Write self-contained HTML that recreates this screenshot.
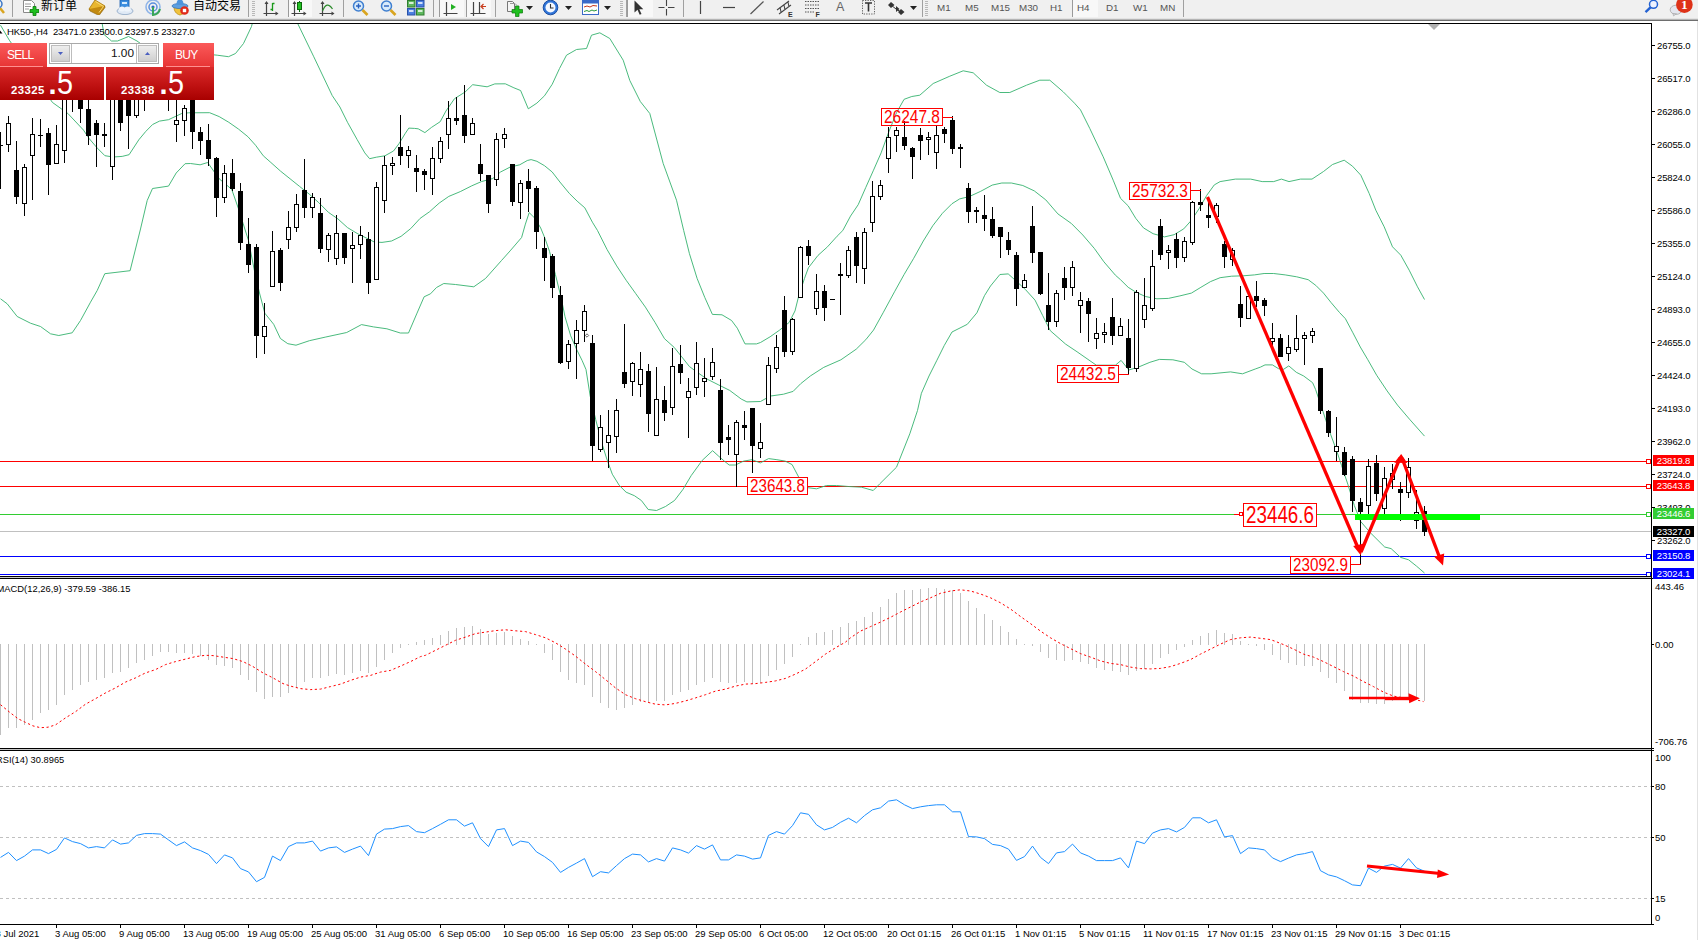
<!DOCTYPE html>
<html><head><meta charset="utf-8"><title>HK50-,H4</title>
<style>
html,body{margin:0;padding:0;background:#fff}
body{width:1698px;height:940px;position:relative;overflow:hidden;font-family:"Liberation Sans","Noto Sans CJK SC",sans-serif}
.t{position:absolute;white-space:nowrap;line-height:11px;height:11px}
.pl{position:absolute;left:1653px;width:41px;height:11px;line-height:11px;font-size:9.5px;letter-spacing:-0.15px;color:#fff;text-align:center;white-space:nowrap}
#tb{position:absolute;left:0;top:0;width:1698px;height:21px;background:#f0f0f0}
#tb .l1{position:absolute;left:0;top:18px;width:100%;height:1px;background:#e3e3e3}
#tb .l2{position:absolute;left:0;top:19px;width:100%;height:1px;background:#b4b4b4}
#tb .l3{position:absolute;left:0;top:20px;width:100%;height:1px;background:#6e6e6e}
#redge{position:absolute;left:1697px;top:21px;width:1px;height:919px;background:#e2e2e2}

#pn{position:absolute;left:0;top:43px;width:214px;height:57px;background:#fff}
#pn .sb{position:absolute;top:0;height:24px;background:linear-gradient(#fb5a5a,#e73434);color:#fff;font-size:12px;line-height:24px;letter-spacing:-0.7px}
#pn .lb{position:absolute;top:24px;height:33px;background:linear-gradient(#da2a2a,#c01212 55%,#a80000);color:#fff}
#pn .hl{position:absolute;top:23px;height:1px;background:#ff8f8f}
#pn .sm{position:absolute;font-weight:bold;font-size:11.4px;line-height:12px;top:17px;letter-spacing:0.4px}
#pn .bg{position:absolute;font-size:33.5px;line-height:33px;top:-1px;transform:scaleX(0.86);transform-origin:0 0}
#pn .dot{position:absolute;font-size:29px;line-height:33px;top:0.5px;font-weight:bold}
#sp{position:absolute;left:49px;top:0;width:110px;height:21px;background:#fff;border:1px solid #a9a9a9;box-sizing:border-box}
#sp .bt{position:absolute;top:1px;width:19px;height:17px;background:linear-gradient(#eeeeee,#cfcfcf);border:1px solid #bdbdbd;box-sizing:border-box}
#sp .v{position:absolute;left:21px;top:0;width:66px;height:19px;text-align:right;font-size:11.8px;line-height:19px;color:#111;border-left:1px solid #bdbdbd;border-right:1px solid #bdbdbd;box-sizing:border-box;padding-right:2px}

</style></head><body>
<svg width="1698" height="940" viewBox="0 0 1698 940" style="position:absolute;left:0;top:0">
<defs><clipPath id="cm"><rect x="0" y="24" width="1651" height="552"/></clipPath><clipPath id="c2"><rect x="0" y="579" width="1651" height="169"/></clipPath><clipPath id="c3"><rect x="0" y="751" width="1651" height="173"/></clipPath></defs>
<g clip-path="url(#cm)">
<g shape-rendering="crispEdges">
<rect x="0" y="531" width="1651" height="1" fill="#c0c0c0"/>
<rect x="0" y="514" width="1651" height="1" fill="#32cd32"/>
<rect x="0" y="461" width="1651" height="1" fill="#ff0000"/>
<rect x="0" y="486" width="1651" height="1" fill="#ff0000"/>
<rect x="0" y="556" width="1651" height="1" fill="#0000ff"/>
<rect x="0" y="574" width="1651" height="1" fill="#0000ff"/>
</g>
<polyline points="102.0,22.5 104.0,34.5 111.5,41.0 117.5,41.0 128.5,36.5 137.0,41.0 140.5,43.5 150.5,46.5 180.5,50.5 200.5,53.5 217.2,55.2 228.5,56.7 235.5,53.5 243.5,43.5 251.5,26.5 252.5,22.5" fill="none" stroke="#35b26e" stroke-width="0.9"/>
<polyline points="297.2,22.5 313.8,56.8 332.2,95.5 339.9,107.0 347.5,122.3 357.1,139.5 364.8,152.9 369.6,158.7 376.3,157.2 384.9,155.8 393.5,151.0 399.2,143.4 405.0,133.8 408.8,128.1 414.5,128.4 418.2,128.8 424.9,132.6 431.5,127.4 440.2,121.7 445.9,111.1 454.5,98.7 465.1,92.0 472.7,84.7 487.1,86.8 494.8,83.9 505.3,83.8 513.9,87.8 520.6,90.5 528.3,108.8 536.9,103.1 544.5,95.8 552.2,84.3 559.5,68.5 566.5,55.2 576.5,49.5 586.5,48.5 591.5,35.2 599.8,32.8 609.8,38.5 623.2,60.2 629.8,80.5 640.3,101.5 649.8,113.5 663.2,163.5 676.5,200.2 683.7,230.5 689.4,253.5 697.1,278.4 704.8,297.5 712.4,314.4 722.0,314.8 731.6,320.5 737.3,328.2 745.0,343.9 756.5,343.9 760.5,342.5 770.1,336.8 779.6,330.1 789.2,322.4 795.0,310.9 798.8,295.6 804.5,278.4 808.4,267.8 818.0,255.4 827.5,246.8 837.1,236.2 842.8,230.5 850.5,216.1 858.2,204.7 865.8,187.4 873.5,170.2 881.1,152.9 888.8,131.9 896.5,112.7 904.1,99.3 911.8,96.5 919.8,95.2 933.2,83.5 949.8,76.2 963.2,70.8 973.2,72.8 986.5,85.2 999.8,92.5 1009.8,92.5 1026.5,85.2 1039.8,80.2 1049.8,80.2 1063.2,91.8 1066.9,95.5 1074.5,103.2 1080.5,109.9 1089.8,128.5 1103.2,156.8 1113.2,180.2 1120.5,198.3 1128.2,205.9 1135.8,218.4 1143.5,227.9 1153.1,233.7 1164.5,236.9 1174.1,234.7 1183.7,228.9 1191.4,220.3 1199.0,208.8 1206.7,195.4 1214.3,184.9 1220.1,181.6 1235.4,179.1 1250.7,179.1 1262.2,181.6 1273.7,181.6 1281.4,179.1 1289.0,181.6 1300.5,179.1 1312.0,179.1 1323.5,171.5 1332.5,164.5 1344.2,160.2 1352.5,166.2 1360.8,175.2 1369.2,193.5 1375.8,210.2 1384.2,226.8 1392.5,246.8 1400.8,255.2 1409.2,270.2 1417.5,286.8 1424.5,299.5" fill="none" stroke="#35b26e" stroke-width="0.9"/>
<polyline points="0.5,25.2 9.3,40.2 30.5,70.5 52.4,102.4 62.0,109.3 67.9,113.5 83.5,130.1 89.0,138.4 97.3,148.1 104.9,155.7 113.2,157.0 122.2,156.4 129.1,154.7 138.8,139.8 145.7,131.5 152.6,124.5 159.5,121.1 168.5,119.7 181.7,113.5 188.6,112.8 209.6,112.7 219.2,116.6 228.8,122.3 238.4,129.0 247.9,136.7 255.6,145.3 263.3,155.8 270.9,162.5 280.5,171.1 290.1,178.8 299.7,186.5 309.2,194.1 318.8,202.7 328.4,212.3 338.0,219.0 347.5,227.6 357.1,233.4 366.7,238.2 374.3,242.0 382.0,242.4 391.6,241.0 401.1,236.3 410.7,228.6 420.1,218.4 429.6,211.7 439.2,203.1 448.8,196.4 460.3,191.6 471.8,185.8 481.4,181.6 492.8,178.5 500.5,172.0 510.1,167.1 519.7,164.8 527.3,160.5 531.1,159.6 536.9,161.3 544.5,165.7 552.2,172.0 559.9,182.0 569.4,193.5 577.1,201.1 584.8,207.8 592.4,222.2 597.5,230.5 607.1,249.6 616.7,265.9 626.2,280.3 635.8,293.7 645.4,307.1 655.0,322.4 664.5,338.7 674.1,347.3 681.8,356.9 689.4,366.5 697.1,372.2 706.7,378.9 718.2,384.7 729.7,390.4 741.2,399.0 746.9,401.9 760.5,401.5 770.1,396.1 783.5,394.2 793.1,391.4 800.7,383.7 810.3,376.0 823.7,367.4 840.9,359.8 856.2,349.2 865.8,339.7 873.5,330.1 883.1,312.8 894.5,291.8 904.1,274.5 913.7,258.3 923.3,241.0 932.8,225.7 942.4,213.3 952.0,203.7 959.7,198.9 969.2,196.6 980.7,191.3 992.2,185.1 1001.8,183.0 1011.4,183.0 1022.8,185.5 1034.3,190.9 1045.8,199.9 1057.9,213.9 1071.4,223.5 1082.8,235.0 1094.3,248.4 1103.9,261.8 1115.4,275.2 1120.5,279.7 1128.2,287.3 1135.8,292.1 1145.4,296.5 1156.9,298.8 1168.4,298.4 1179.9,295.9 1191.4,293.1 1200.9,287.3 1210.5,281.6 1220.1,277.7 1231.6,276.2 1243.1,275.8 1254.5,274.9 1264.1,273.5 1273.7,273.5 1285.2,274.9 1296.7,276.8 1308.2,279.7 1315.8,285.4 1323.5,293.1 1331.1,302.6 1339.5,312.5 1345.4,318.7 1352.9,332.8 1360.3,347.0 1367.8,359.7 1376.7,375.3 1387.1,390.9 1397.5,405.1 1409.5,419.2 1424.5,436.1" fill="none" stroke="#35b26e" stroke-width="0.9"/>
<polyline points="0.5,298.8 7.2,303.8 17.2,316.5 30.5,323.2 40.5,326.5 50.5,333.8 58.8,335.5 72.2,332.8 80.5,320.5 90.5,302.2 97.2,290.5 104.8,273.7 130.1,270.7 140.5,229.0 147.2,200.5 152.5,188.5 168.5,186.1 176.2,173.0 185.1,163.7 190.5,163.5 200.1,164.8 207.7,162.5 214.4,172.1 219.2,178.8 231.7,189.3 238.4,208.5 243.2,223.8 248.4,240.2 254.3,270.0 259.5,293.0 264.8,313.2 273.7,324.3 280.4,338.5 287.8,343.7 296.0,345.2 309.4,340.7 325.8,337.0 346.7,332.5 361.5,324.6 373.5,326.9 386.9,328.8 400.3,333.0 408.5,333.0 416.7,313.9 424.1,296.8 430.5,293.8 436.5,287.5 443.8,283.5 455.5,284.5 473.8,286.8 485.5,278.5 501.5,260.5 510.1,250.9 521.6,237.5 525.4,224.1 529.2,212.6 535.0,218.4 540.7,228.0 544.9,238.2 549.6,251.6 555.4,274.5 561.1,297.5 565.0,316.7 570.7,335.8 576.5,349.2 582.2,360.7 586.0,369.5 590.2,396.1 595.7,419.6 601.2,441.0 606.8,459.0 612.3,474.2 619.2,485.3 626.1,492.2 634.4,495.7 641.4,500.5 648.2,509.5 656.5,510.5 665.5,506.5 674.5,500.5 682.9,489.5 691.2,475.6 702.2,460.4 712.6,450.7 718.8,456.3 724.3,461.1 729.2,465.0 735.4,465.0 743.7,461.1 752.0,459.7 760.3,462.9 768.6,458.6 776.9,459.7 785.2,461.1 792.1,464.6 799.0,477.7 806.5,487.5 816.5,488.8 826.5,485.5 836.5,485.5 848.5,486.5 861.5,487.2 873.2,490.5 879.8,483.8 896.5,467.2 909.8,433.8 917.5,410.5 921.4,393.3 929.0,376.0 936.7,360.7 944.3,345.4 952.0,332.0 967.3,324.3 976.9,312.8 984.5,295.6 990.5,286.0 999.9,274.5 1008.2,273.9 1013.9,279.0 1025.4,289.5 1035.0,300.1 1042.6,315.4 1050.3,330.7 1065.6,344.1 1077.1,351.8 1096.3,365.2 1115.4,365.2 1121.1,360.4 1128.8,370.0 1138.4,367.1 1149.9,362.3 1159.4,359.4 1172.9,359.8 1184.3,362.3 1192.0,369.0 1201.6,373.8 1211.1,373.8 1230.5,371.9 1242.5,373.8 1255.8,368.8 1260.5,367.1 1265.0,364.9 1272.4,364.9 1278.4,368.6 1283.6,369.3 1288.8,365.9 1296.3,372.3 1303.7,376.0 1312.6,382.7 1315.6,389.5 1318.6,398.4 1323.1,411.8 1326.0,420.7 1330.5,434.1 1336.8,451.2 1341.6,465.6 1348.0,484.8 1354.3,505.5 1360.7,521.5 1370.3,532.7 1384.7,547.0 1391.1,548.6 1400.6,557.4 1408.6,559.8 1416.6,566.2 1424.5,573.0" fill="none" stroke="#35b26e" stroke-width="0.9"/>
<g shape-rendering="crispEdges">
<rect x="0" y="132" width="1" height="57" fill="#000"/>
<rect x="-2" y="145" width="5" height="1" fill="#000"/>
<rect x="8" y="116" width="1" height="36" fill="#000"/>
<rect x="6" y="123" width="5" height="22" fill="#000"/>
<rect x="7" y="124" width="3" height="20" fill="#fff"/>
<rect x="16" y="141" width="1" height="63" fill="#000"/>
<rect x="14" y="170" width="5" height="27" fill="#000"/>
<rect x="24" y="164" width="1" height="52" fill="#000"/>
<rect x="22" y="167" width="5" height="37" fill="#000"/>
<rect x="23" y="168" width="3" height="35" fill="#fff"/>
<rect x="32" y="118" width="1" height="82" fill="#000"/>
<rect x="30" y="134" width="5" height="22" fill="#000"/>
<rect x="31" y="135" width="3" height="20" fill="#fff"/>
<rect x="40" y="119" width="1" height="28" fill="#000"/>
<rect x="38" y="135" width="5" height="1" fill="#000"/>
<rect x="48" y="128" width="1" height="67" fill="#000"/>
<rect x="46" y="133" width="5" height="32" fill="#000"/>
<rect x="56" y="125" width="1" height="39" fill="#000"/>
<rect x="54" y="144" width="5" height="20" fill="#000"/>
<rect x="55" y="145" width="3" height="18" fill="#fff"/>
<rect x="64" y="60" width="1" height="103" fill="#000"/>
<rect x="62" y="70" width="5" height="81" fill="#000"/>
<rect x="63" y="71" width="3" height="79" fill="#fff"/>
<rect x="72" y="50" width="1" height="62" fill="#000"/>
<rect x="70" y="60" width="5" height="35" fill="#000"/>
<rect x="80" y="80" width="1" height="43" fill="#000"/>
<rect x="78" y="85" width="5" height="24" fill="#000"/>
<rect x="88" y="95" width="1" height="50" fill="#000"/>
<rect x="86" y="109" width="5" height="27" fill="#000"/>
<rect x="96" y="120" width="1" height="47" fill="#000"/>
<rect x="94" y="123" width="5" height="12" fill="#000"/>
<rect x="104" y="123" width="1" height="24" fill="#000"/>
<rect x="102" y="134" width="5" height="2" fill="#000"/>
<rect x="112" y="70" width="1" height="110" fill="#000"/>
<rect x="110" y="75" width="5" height="92" fill="#000"/>
<rect x="111" y="76" width="3" height="90" fill="#fff"/>
<rect x="120" y="75" width="1" height="56" fill="#000"/>
<rect x="118" y="80" width="5" height="43" fill="#000"/>
<rect x="128" y="80" width="1" height="69" fill="#000"/>
<rect x="126" y="85" width="5" height="31" fill="#000"/>
<rect x="136" y="85" width="1" height="33" fill="#000"/>
<rect x="134" y="90" width="5" height="26" fill="#000"/>
<rect x="135" y="91" width="3" height="24" fill="#fff"/>
<rect x="144" y="60" width="1" height="51" fill="#000"/>
<rect x="142" y="70" width="5" height="25" fill="#000"/>
<rect x="152" y="60" width="1" height="38" fill="#000"/>
<rect x="150" y="65" width="5" height="25" fill="#000"/>
<rect x="151" y="66" width="3" height="23" fill="#fff"/>
<rect x="160" y="60" width="1" height="38" fill="#000"/>
<rect x="158" y="65" width="5" height="25" fill="#000"/>
<rect x="168" y="60" width="1" height="51" fill="#000"/>
<rect x="166" y="70" width="5" height="25" fill="#000"/>
<rect x="167" y="71" width="3" height="23" fill="#fff"/>
<rect x="176" y="95" width="1" height="47" fill="#000"/>
<rect x="174" y="120" width="5" height="5" fill="#000"/>
<rect x="175" y="121" width="3" height="3" fill="#fff"/>
<rect x="184" y="105" width="1" height="31" fill="#000"/>
<rect x="182" y="108" width="5" height="13" fill="#000"/>
<rect x="183" y="109" width="3" height="11" fill="#fff"/>
<rect x="192" y="85" width="1" height="64" fill="#000"/>
<rect x="190" y="88" width="5" height="44" fill="#000"/>
<rect x="200" y="127" width="1" height="28" fill="#000"/>
<rect x="198" y="132" width="5" height="9" fill="#000"/>
<rect x="208" y="124" width="1" height="42" fill="#000"/>
<rect x="206" y="140" width="5" height="19" fill="#000"/>
<rect x="216" y="157" width="1" height="60" fill="#000"/>
<rect x="214" y="158" width="5" height="40" fill="#000"/>
<rect x="224" y="165" width="1" height="38" fill="#000"/>
<rect x="222" y="173" width="5" height="25" fill="#000"/>
<rect x="223" y="174" width="3" height="23" fill="#fff"/>
<rect x="232" y="159" width="1" height="32" fill="#000"/>
<rect x="230" y="173" width="5" height="16" fill="#000"/>
<rect x="240" y="183" width="1" height="67" fill="#000"/>
<rect x="238" y="191" width="5" height="52" fill="#000"/>
<rect x="248" y="218" width="1" height="55" fill="#000"/>
<rect x="246" y="244" width="5" height="21" fill="#000"/>
<rect x="256" y="244" width="1" height="114" fill="#000"/>
<rect x="254" y="247" width="5" height="89" fill="#000"/>
<rect x="264" y="303" width="1" height="51" fill="#000"/>
<rect x="262" y="326" width="5" height="11" fill="#000"/>
<rect x="263" y="327" width="3" height="9" fill="#fff"/>
<rect x="272" y="231" width="1" height="56" fill="#000"/>
<rect x="270" y="251" width="5" height="36" fill="#000"/>
<rect x="271" y="252" width="3" height="34" fill="#fff"/>
<rect x="280" y="248" width="1" height="43" fill="#000"/>
<rect x="278" y="250" width="5" height="33" fill="#000"/>
<rect x="288" y="211" width="1" height="38" fill="#000"/>
<rect x="286" y="227" width="5" height="13" fill="#000"/>
<rect x="287" y="228" width="3" height="11" fill="#fff"/>
<rect x="296" y="194" width="1" height="38" fill="#000"/>
<rect x="294" y="204" width="5" height="24" fill="#000"/>
<rect x="295" y="205" width="3" height="22" fill="#fff"/>
<rect x="304" y="159" width="1" height="59" fill="#000"/>
<rect x="302" y="190" width="5" height="18" fill="#000"/>
<rect x="312" y="193" width="1" height="25" fill="#000"/>
<rect x="310" y="197" width="5" height="11" fill="#000"/>
<rect x="311" y="198" width="3" height="9" fill="#fff"/>
<rect x="320" y="198" width="1" height="55" fill="#000"/>
<rect x="318" y="213" width="5" height="36" fill="#000"/>
<rect x="328" y="233" width="1" height="29" fill="#000"/>
<rect x="326" y="235" width="5" height="15" fill="#000"/>
<rect x="327" y="236" width="3" height="13" fill="#fff"/>
<rect x="336" y="215" width="1" height="50" fill="#000"/>
<rect x="334" y="233" width="5" height="26" fill="#000"/>
<rect x="335" y="234" width="3" height="24" fill="#fff"/>
<rect x="344" y="233" width="1" height="31" fill="#000"/>
<rect x="342" y="233" width="5" height="25" fill="#000"/>
<rect x="352" y="232" width="1" height="51" fill="#000"/>
<rect x="350" y="245" width="5" height="4" fill="#000"/>
<rect x="351" y="246" width="3" height="2" fill="#fff"/>
<rect x="360" y="226" width="1" height="33" fill="#000"/>
<rect x="358" y="235" width="5" height="10" fill="#000"/>
<rect x="359" y="236" width="3" height="8" fill="#fff"/>
<rect x="368" y="232" width="1" height="62" fill="#000"/>
<rect x="366" y="239" width="5" height="44" fill="#000"/>
<rect x="376" y="182" width="1" height="98" fill="#000"/>
<rect x="374" y="187" width="5" height="93" fill="#000"/>
<rect x="375" y="188" width="3" height="91" fill="#fff"/>
<rect x="384" y="156" width="1" height="57" fill="#000"/>
<rect x="382" y="165" width="5" height="36" fill="#000"/>
<rect x="383" y="166" width="3" height="34" fill="#fff"/>
<rect x="392" y="157" width="1" height="18" fill="#000"/>
<rect x="390" y="163" width="5" height="3" fill="#000"/>
<rect x="391" y="164" width="3" height="1" fill="#fff"/>
<rect x="400" y="115" width="1" height="50" fill="#000"/>
<rect x="398" y="147" width="5" height="9" fill="#000"/>
<rect x="408" y="146" width="1" height="22" fill="#000"/>
<rect x="406" y="150" width="5" height="6" fill="#000"/>
<rect x="407" y="151" width="3" height="4" fill="#fff"/>
<rect x="416" y="155" width="1" height="37" fill="#000"/>
<rect x="414" y="168" width="5" height="4" fill="#000"/>
<rect x="424" y="169" width="1" height="21" fill="#000"/>
<rect x="422" y="171" width="5" height="4" fill="#000"/>
<rect x="432" y="147" width="1" height="48" fill="#000"/>
<rect x="430" y="158" width="5" height="21" fill="#000"/>
<rect x="431" y="159" width="3" height="19" fill="#fff"/>
<rect x="440" y="137" width="1" height="26" fill="#000"/>
<rect x="438" y="141" width="5" height="18" fill="#000"/>
<rect x="439" y="142" width="3" height="16" fill="#fff"/>
<rect x="448" y="101" width="1" height="48" fill="#000"/>
<rect x="446" y="118" width="5" height="17" fill="#000"/>
<rect x="447" y="119" width="3" height="15" fill="#fff"/>
<rect x="456" y="97" width="1" height="28" fill="#000"/>
<rect x="454" y="118" width="5" height="3" fill="#000"/>
<rect x="464" y="85" width="1" height="58" fill="#000"/>
<rect x="462" y="115" width="5" height="21" fill="#000"/>
<rect x="472" y="118" width="1" height="17" fill="#000"/>
<rect x="470" y="123" width="5" height="12" fill="#000"/>
<rect x="471" y="124" width="3" height="10" fill="#fff"/>
<rect x="480" y="144" width="1" height="37" fill="#000"/>
<rect x="478" y="164" width="5" height="10" fill="#000"/>
<rect x="488" y="175" width="1" height="38" fill="#000"/>
<rect x="486" y="175" width="5" height="29" fill="#000"/>
<rect x="496" y="133" width="1" height="53" fill="#000"/>
<rect x="494" y="139" width="5" height="41" fill="#000"/>
<rect x="495" y="140" width="3" height="39" fill="#fff"/>
<rect x="504" y="128" width="1" height="20" fill="#000"/>
<rect x="502" y="134" width="5" height="5" fill="#000"/>
<rect x="503" y="135" width="3" height="3" fill="#fff"/>
<rect x="512" y="164" width="1" height="42" fill="#000"/>
<rect x="510" y="164" width="5" height="38" fill="#000"/>
<rect x="520" y="180" width="1" height="39" fill="#000"/>
<rect x="518" y="183" width="5" height="20" fill="#000"/>
<rect x="519" y="184" width="3" height="18" fill="#fff"/>
<rect x="528" y="169" width="1" height="43" fill="#000"/>
<rect x="526" y="181" width="5" height="8" fill="#000"/>
<rect x="536" y="186" width="1" height="63" fill="#000"/>
<rect x="534" y="188" width="5" height="44" fill="#000"/>
<rect x="544" y="237" width="1" height="44" fill="#000"/>
<rect x="542" y="248" width="5" height="10" fill="#000"/>
<rect x="552" y="254" width="1" height="44" fill="#000"/>
<rect x="550" y="256" width="5" height="32" fill="#000"/>
<rect x="560" y="286" width="1" height="78" fill="#000"/>
<rect x="558" y="295" width="5" height="68" fill="#000"/>
<rect x="568" y="340" width="1" height="29" fill="#000"/>
<rect x="566" y="344" width="5" height="18" fill="#000"/>
<rect x="567" y="345" width="3" height="16" fill="#fff"/>
<rect x="576" y="320" width="1" height="59" fill="#000"/>
<rect x="574" y="330" width="5" height="14" fill="#000"/>
<rect x="575" y="331" width="3" height="12" fill="#fff"/>
<rect x="584" y="305" width="1" height="37" fill="#000"/>
<rect x="582" y="311" width="5" height="20" fill="#000"/>
<rect x="583" y="312" width="3" height="18" fill="#fff"/>
<rect x="592" y="335" width="1" height="126" fill="#000"/>
<rect x="590" y="343" width="5" height="103" fill="#000"/>
<rect x="600" y="415" width="1" height="37" fill="#000"/>
<rect x="598" y="427" width="5" height="23" fill="#000"/>
<rect x="599" y="428" width="3" height="21" fill="#fff"/>
<rect x="608" y="410" width="1" height="58" fill="#000"/>
<rect x="606" y="435" width="5" height="8" fill="#000"/>
<rect x="607" y="436" width="3" height="6" fill="#fff"/>
<rect x="616" y="399" width="1" height="54" fill="#000"/>
<rect x="614" y="410" width="5" height="27" fill="#000"/>
<rect x="615" y="411" width="3" height="25" fill="#fff"/>
<rect x="624" y="324" width="1" height="64" fill="#000"/>
<rect x="622" y="372" width="5" height="12" fill="#000"/>
<rect x="632" y="362" width="1" height="34" fill="#000"/>
<rect x="630" y="363" width="5" height="19" fill="#000"/>
<rect x="631" y="364" width="3" height="17" fill="#fff"/>
<rect x="640" y="352" width="1" height="45" fill="#000"/>
<rect x="638" y="369" width="5" height="16" fill="#000"/>
<rect x="639" y="370" width="3" height="14" fill="#fff"/>
<rect x="648" y="364" width="1" height="68" fill="#000"/>
<rect x="646" y="371" width="5" height="43" fill="#000"/>
<rect x="656" y="367" width="1" height="69" fill="#000"/>
<rect x="654" y="399" width="5" height="37" fill="#000"/>
<rect x="655" y="400" width="3" height="35" fill="#fff"/>
<rect x="664" y="386" width="1" height="35" fill="#000"/>
<rect x="662" y="400" width="5" height="13" fill="#000"/>
<rect x="672" y="348" width="1" height="67" fill="#000"/>
<rect x="670" y="366" width="5" height="42" fill="#000"/>
<rect x="671" y="367" width="3" height="40" fill="#fff"/>
<rect x="680" y="345" width="1" height="39" fill="#000"/>
<rect x="678" y="364" width="5" height="9" fill="#000"/>
<rect x="688" y="378" width="1" height="60" fill="#000"/>
<rect x="686" y="391" width="5" height="7" fill="#000"/>
<rect x="687" y="392" width="3" height="5" fill="#fff"/>
<rect x="696" y="342" width="1" height="53" fill="#000"/>
<rect x="694" y="363" width="5" height="25" fill="#000"/>
<rect x="695" y="364" width="3" height="23" fill="#fff"/>
<rect x="704" y="358" width="1" height="39" fill="#000"/>
<rect x="702" y="378" width="5" height="4" fill="#000"/>
<rect x="703" y="379" width="3" height="2" fill="#fff"/>
<rect x="712" y="348" width="1" height="32" fill="#000"/>
<rect x="710" y="362" width="5" height="15" fill="#000"/>
<rect x="711" y="363" width="3" height="13" fill="#fff"/>
<rect x="720" y="379" width="1" height="81" fill="#000"/>
<rect x="718" y="390" width="5" height="53" fill="#000"/>
<rect x="728" y="425" width="1" height="30" fill="#000"/>
<rect x="726" y="437" width="5" height="3" fill="#000"/>
<rect x="736" y="420" width="1" height="67" fill="#000"/>
<rect x="734" y="422" width="5" height="33" fill="#000"/>
<rect x="735" y="423" width="3" height="31" fill="#fff"/>
<rect x="744" y="411" width="1" height="29" fill="#000"/>
<rect x="742" y="425" width="5" height="3" fill="#000"/>
<rect x="752" y="408" width="1" height="65" fill="#000"/>
<rect x="750" y="408" width="5" height="38" fill="#000"/>
<rect x="760" y="423" width="1" height="35" fill="#000"/>
<rect x="758" y="442" width="5" height="7" fill="#000"/>
<rect x="759" y="443" width="3" height="5" fill="#fff"/>
<rect x="768" y="357" width="1" height="48" fill="#000"/>
<rect x="766" y="365" width="5" height="40" fill="#000"/>
<rect x="767" y="366" width="3" height="38" fill="#fff"/>
<rect x="776" y="335" width="1" height="38" fill="#000"/>
<rect x="774" y="347" width="5" height="22" fill="#000"/>
<rect x="775" y="348" width="3" height="20" fill="#fff"/>
<rect x="784" y="296" width="1" height="61" fill="#000"/>
<rect x="782" y="310" width="5" height="42" fill="#000"/>
<rect x="792" y="318" width="1" height="37" fill="#000"/>
<rect x="790" y="319" width="5" height="33" fill="#000"/>
<rect x="791" y="320" width="3" height="31" fill="#fff"/>
<rect x="800" y="246" width="1" height="52" fill="#000"/>
<rect x="798" y="247" width="5" height="51" fill="#000"/>
<rect x="799" y="248" width="3" height="49" fill="#fff"/>
<rect x="808" y="240" width="1" height="25" fill="#000"/>
<rect x="806" y="246" width="5" height="10" fill="#000"/>
<rect x="816" y="274" width="1" height="41" fill="#000"/>
<rect x="814" y="291" width="5" height="18" fill="#000"/>
<rect x="815" y="292" width="3" height="16" fill="#fff"/>
<rect x="824" y="285" width="1" height="36" fill="#000"/>
<rect x="822" y="291" width="5" height="17" fill="#000"/>
<rect x="830" y="299" width="5" height="1" fill="#000"/>
<rect x="840" y="263" width="1" height="52" fill="#000"/>
<rect x="838" y="274" width="5" height="2" fill="#000"/>
<rect x="848" y="246" width="1" height="32" fill="#000"/>
<rect x="846" y="250" width="5" height="26" fill="#000"/>
<rect x="847" y="251" width="3" height="24" fill="#fff"/>
<rect x="856" y="232" width="1" height="51" fill="#000"/>
<rect x="854" y="237" width="5" height="29" fill="#000"/>
<rect x="864" y="228" width="1" height="56" fill="#000"/>
<rect x="862" y="232" width="5" height="37" fill="#000"/>
<rect x="863" y="233" width="3" height="35" fill="#fff"/>
<rect x="872" y="181" width="1" height="51" fill="#000"/>
<rect x="870" y="196" width="5" height="27" fill="#000"/>
<rect x="871" y="197" width="3" height="25" fill="#fff"/>
<rect x="880" y="180" width="1" height="20" fill="#000"/>
<rect x="878" y="185" width="5" height="12" fill="#000"/>
<rect x="879" y="186" width="3" height="10" fill="#fff"/>
<rect x="888" y="127" width="1" height="46" fill="#000"/>
<rect x="886" y="137" width="5" height="22" fill="#000"/>
<rect x="887" y="138" width="3" height="20" fill="#fff"/>
<rect x="896" y="127" width="1" height="25" fill="#000"/>
<rect x="894" y="130" width="5" height="6" fill="#000"/>
<rect x="895" y="131" width="3" height="4" fill="#fff"/>
<rect x="904" y="121" width="1" height="29" fill="#000"/>
<rect x="902" y="137" width="5" height="9" fill="#000"/>
<rect x="912" y="147" width="1" height="32" fill="#000"/>
<rect x="910" y="148" width="5" height="9" fill="#000"/>
<rect x="920" y="128" width="1" height="32" fill="#000"/>
<rect x="918" y="135" width="5" height="6" fill="#000"/>
<rect x="928" y="132" width="1" height="23" fill="#000"/>
<rect x="926" y="137" width="5" height="3" fill="#000"/>
<rect x="927" y="138" width="3" height="1" fill="#fff"/>
<rect x="936" y="126" width="1" height="43" fill="#000"/>
<rect x="934" y="135" width="5" height="18" fill="#000"/>
<rect x="935" y="136" width="3" height="16" fill="#fff"/>
<rect x="944" y="127" width="1" height="16" fill="#000"/>
<rect x="942" y="129" width="5" height="5" fill="#000"/>
<rect x="952" y="116" width="1" height="38" fill="#000"/>
<rect x="950" y="120" width="5" height="29" fill="#000"/>
<rect x="960" y="144" width="1" height="24" fill="#000"/>
<rect x="958" y="147" width="5" height="2" fill="#000"/>
<rect x="968" y="183" width="1" height="40" fill="#000"/>
<rect x="966" y="188" width="5" height="24" fill="#000"/>
<rect x="976" y="207" width="1" height="16" fill="#000"/>
<rect x="974" y="210" width="5" height="2" fill="#000"/>
<rect x="984" y="195" width="1" height="36" fill="#000"/>
<rect x="982" y="215" width="5" height="4" fill="#000"/>
<rect x="992" y="207" width="1" height="31" fill="#000"/>
<rect x="990" y="219" width="5" height="17" fill="#000"/>
<rect x="1000" y="227" width="1" height="31" fill="#000"/>
<rect x="998" y="227" width="5" height="10" fill="#000"/>
<rect x="1008" y="232" width="1" height="23" fill="#000"/>
<rect x="1006" y="240" width="5" height="10" fill="#000"/>
<rect x="1016" y="252" width="1" height="54" fill="#000"/>
<rect x="1014" y="255" width="5" height="34" fill="#000"/>
<rect x="1024" y="274" width="1" height="14" fill="#000"/>
<rect x="1022" y="280" width="5" height="8" fill="#000"/>
<rect x="1023" y="281" width="3" height="6" fill="#fff"/>
<rect x="1032" y="206" width="1" height="57" fill="#000"/>
<rect x="1030" y="226" width="5" height="27" fill="#000"/>
<rect x="1040" y="252" width="1" height="43" fill="#000"/>
<rect x="1038" y="252" width="5" height="42" fill="#000"/>
<rect x="1048" y="273" width="1" height="57" fill="#000"/>
<rect x="1046" y="305" width="5" height="17" fill="#000"/>
<rect x="1056" y="290" width="1" height="37" fill="#000"/>
<rect x="1054" y="293" width="5" height="29" fill="#000"/>
<rect x="1055" y="294" width="3" height="27" fill="#fff"/>
<rect x="1064" y="267" width="1" height="33" fill="#000"/>
<rect x="1062" y="278" width="5" height="10" fill="#000"/>
<rect x="1072" y="261" width="1" height="35" fill="#000"/>
<rect x="1070" y="267" width="5" height="21" fill="#000"/>
<rect x="1071" y="268" width="3" height="19" fill="#fff"/>
<rect x="1080" y="292" width="1" height="41" fill="#000"/>
<rect x="1078" y="300" width="5" height="6" fill="#000"/>
<rect x="1079" y="301" width="3" height="4" fill="#fff"/>
<rect x="1088" y="298" width="1" height="44" fill="#000"/>
<rect x="1086" y="301" width="5" height="13" fill="#000"/>
<rect x="1096" y="318" width="1" height="31" fill="#000"/>
<rect x="1094" y="333" width="5" height="6" fill="#000"/>
<rect x="1095" y="334" width="3" height="4" fill="#fff"/>
<rect x="1104" y="323" width="1" height="20" fill="#000"/>
<rect x="1102" y="332" width="5" height="3" fill="#000"/>
<rect x="1103" y="333" width="3" height="1" fill="#fff"/>
<rect x="1112" y="298" width="1" height="47" fill="#000"/>
<rect x="1110" y="317" width="5" height="19" fill="#000"/>
<rect x="1120" y="318" width="1" height="18" fill="#000"/>
<rect x="1118" y="326" width="5" height="10" fill="#000"/>
<rect x="1119" y="327" width="3" height="8" fill="#fff"/>
<rect x="1128" y="319" width="1" height="55" fill="#000"/>
<rect x="1126" y="338" width="5" height="30" fill="#000"/>
<rect x="1136" y="290" width="1" height="82" fill="#000"/>
<rect x="1134" y="292" width="5" height="77" fill="#000"/>
<rect x="1135" y="293" width="3" height="75" fill="#fff"/>
<rect x="1144" y="278" width="1" height="50" fill="#000"/>
<rect x="1142" y="305" width="5" height="15" fill="#000"/>
<rect x="1143" y="306" width="3" height="13" fill="#fff"/>
<rect x="1152" y="250" width="1" height="61" fill="#000"/>
<rect x="1150" y="266" width="5" height="43" fill="#000"/>
<rect x="1151" y="267" width="3" height="41" fill="#fff"/>
<rect x="1160" y="219" width="1" height="41" fill="#000"/>
<rect x="1158" y="226" width="5" height="29" fill="#000"/>
<rect x="1168" y="245" width="1" height="24" fill="#000"/>
<rect x="1166" y="250" width="5" height="3" fill="#000"/>
<rect x="1167" y="251" width="3" height="1" fill="#fff"/>
<rect x="1176" y="233" width="1" height="35" fill="#000"/>
<rect x="1174" y="239" width="5" height="19" fill="#000"/>
<rect x="1184" y="237" width="1" height="25" fill="#000"/>
<rect x="1182" y="241" width="5" height="17" fill="#000"/>
<rect x="1183" y="242" width="3" height="15" fill="#fff"/>
<rect x="1192" y="201" width="1" height="44" fill="#000"/>
<rect x="1190" y="202" width="5" height="41" fill="#000"/>
<rect x="1191" y="203" width="3" height="39" fill="#fff"/>
<rect x="1200" y="189" width="1" height="22" fill="#000"/>
<rect x="1198" y="202" width="5" height="3" fill="#000"/>
<rect x="1208" y="199" width="1" height="29" fill="#000"/>
<rect x="1206" y="215" width="5" height="3" fill="#000"/>
<rect x="1216" y="203" width="1" height="20" fill="#000"/>
<rect x="1214" y="205" width="5" height="12" fill="#000"/>
<rect x="1215" y="206" width="3" height="10" fill="#fff"/>
<rect x="1224" y="241" width="1" height="27" fill="#000"/>
<rect x="1222" y="244" width="5" height="13" fill="#000"/>
<rect x="1232" y="248" width="1" height="18" fill="#000"/>
<rect x="1230" y="250" width="5" height="10" fill="#000"/>
<rect x="1231" y="251" width="3" height="8" fill="#fff"/>
<rect x="1240" y="286" width="1" height="41" fill="#000"/>
<rect x="1238" y="304" width="5" height="14" fill="#000"/>
<rect x="1248" y="296" width="1" height="23" fill="#000"/>
<rect x="1246" y="296" width="5" height="23" fill="#000"/>
<rect x="1247" y="297" width="3" height="21" fill="#fff"/>
<rect x="1256" y="281" width="1" height="26" fill="#000"/>
<rect x="1254" y="296" width="5" height="5" fill="#000"/>
<rect x="1264" y="298" width="1" height="18" fill="#000"/>
<rect x="1262" y="300" width="5" height="6" fill="#000"/>
<rect x="1272" y="323" width="1" height="23" fill="#000"/>
<rect x="1270" y="338" width="5" height="4" fill="#000"/>
<rect x="1271" y="339" width="3" height="2" fill="#fff"/>
<rect x="1280" y="334" width="1" height="23" fill="#000"/>
<rect x="1278" y="338" width="5" height="19" fill="#000"/>
<rect x="1288" y="335" width="1" height="26" fill="#000"/>
<rect x="1286" y="347" width="5" height="7" fill="#000"/>
<rect x="1287" y="348" width="3" height="5" fill="#fff"/>
<rect x="1296" y="315" width="1" height="37" fill="#000"/>
<rect x="1294" y="338" width="5" height="12" fill="#000"/>
<rect x="1295" y="339" width="3" height="10" fill="#fff"/>
<rect x="1304" y="332" width="1" height="33" fill="#000"/>
<rect x="1302" y="335" width="5" height="4" fill="#000"/>
<rect x="1303" y="336" width="3" height="2" fill="#fff"/>
<rect x="1312" y="328" width="1" height="15" fill="#000"/>
<rect x="1310" y="331" width="5" height="5" fill="#000"/>
<rect x="1311" y="332" width="3" height="3" fill="#fff"/>
<rect x="1320" y="368" width="1" height="46" fill="#000"/>
<rect x="1318" y="368" width="5" height="43" fill="#000"/>
<rect x="1328" y="410" width="1" height="27" fill="#000"/>
<rect x="1326" y="411" width="5" height="22" fill="#000"/>
<rect x="1336" y="417" width="1" height="44" fill="#000"/>
<rect x="1334" y="446" width="5" height="6" fill="#000"/>
<rect x="1335" y="447" width="3" height="4" fill="#fff"/>
<rect x="1344" y="447" width="1" height="29" fill="#000"/>
<rect x="1342" y="452" width="5" height="23" fill="#000"/>
<rect x="1352" y="456" width="1" height="56" fill="#000"/>
<rect x="1350" y="459" width="5" height="42" fill="#000"/>
<rect x="1360" y="498" width="1" height="67" fill="#000"/>
<rect x="1358" y="502" width="5" height="10" fill="#000"/>
<rect x="1368" y="459" width="1" height="55" fill="#000"/>
<rect x="1366" y="466" width="5" height="40" fill="#000"/>
<rect x="1367" y="467" width="3" height="38" fill="#fff"/>
<rect x="1376" y="455" width="1" height="46" fill="#000"/>
<rect x="1374" y="463" width="5" height="31" fill="#000"/>
<rect x="1384" y="467" width="1" height="47" fill="#000"/>
<rect x="1382" y="478" width="5" height="31" fill="#000"/>
<rect x="1383" y="479" width="3" height="29" fill="#fff"/>
<rect x="1392" y="464" width="1" height="25" fill="#000"/>
<rect x="1390" y="473" width="5" height="7" fill="#000"/>
<rect x="1391" y="474" width="3" height="5" fill="#fff"/>
<rect x="1400" y="482" width="1" height="39" fill="#000"/>
<rect x="1398" y="489" width="5" height="4" fill="#000"/>
<rect x="1408" y="458" width="1" height="40" fill="#000"/>
<rect x="1406" y="467" width="5" height="26" fill="#000"/>
<rect x="1407" y="468" width="3" height="24" fill="#fff"/>
<rect x="1416" y="490" width="1" height="39" fill="#000"/>
<rect x="1414" y="512" width="5" height="9" fill="#000"/>
<rect x="1415" y="513" width="3" height="7" fill="#fff"/>
<rect x="1424" y="506" width="1" height="30" fill="#000"/>
<rect x="1422" y="511" width="5" height="21" fill="#000"/>
</g>
<path d="M587 333.8l1.700 1.700-1.700 1.700-1.700-1.700z" fill="#fff" stroke="#222" stroke-width="0.700"/>
<rect x="1355" y="514" width="125" height="6" fill="#00ff00" shape-rendering="crispEdges"/>
<g stroke="#ff0000" stroke-width="3.3" stroke-linecap="butt" fill="#ff0000">
<line x1="1207.5" y1="197" x2="1358.5" y2="549"/>
<line x1="1361" y1="552" x2="1400" y2="458"/>
<line x1="1402" y1="458" x2="1440" y2="558.500"/>
</g>
<polygon points="1360.8,555.2 1353.2,546 1364.2,543.5" fill="#ff0000"/>
<polygon points="1401.2,454 1394.2,462.8 1407.2,463" fill="#ff0000"/>
<polygon points="1443,565.6 1434.2,556.8 1444.2,553.6" fill="#ff0000"/>
<rect x="881.5" y="108.5" width="61" height="17" fill="none" stroke="#ff0000" stroke-width="1" shape-rendering="crispEdges"/>
<text x="912.0" y="123.0" font-family="Liberation Sans, sans-serif" font-size="18" fill="#ff0000" text-anchor="middle" textLength="56" lengthAdjust="spacingAndGlyphs">26247.8</text>
<rect x="943" y="117" width="10" height="1" fill="#ff0000" shape-rendering="crispEdges"/>
<rect x="1129.5" y="182.5" width="61" height="17" fill="none" stroke="#ff0000" stroke-width="1" shape-rendering="crispEdges"/>
<text x="1160.0" y="197.0" font-family="Liberation Sans, sans-serif" font-size="18" fill="#ff0000" text-anchor="middle" textLength="56" lengthAdjust="spacingAndGlyphs">25732.3</text>
<rect x="1191" y="190" width="10" height="1" fill="#ff0000" shape-rendering="crispEdges"/>
<rect x="1057.5" y="365.5" width="61" height="17" fill="none" stroke="#ff0000" stroke-width="1" shape-rendering="crispEdges"/>
<text x="1088.0" y="380.0" font-family="Liberation Sans, sans-serif" font-size="18" fill="#ff0000" text-anchor="middle" textLength="56" lengthAdjust="spacingAndGlyphs">24432.5</text>
<rect x="1119" y="374" width="10" height="1" fill="#ff0000" shape-rendering="crispEdges"/>
<rect x="747.5" y="477.5" width="60" height="17" fill="#fff" stroke="#ff0000" stroke-width="1" shape-rendering="crispEdges"/>
<text x="777.5" y="492.0" font-family="Liberation Sans, sans-serif" font-size="18" fill="#ff0000" text-anchor="middle" textLength="55" lengthAdjust="spacingAndGlyphs">23643.8</text>
<rect x="1290.5" y="556.5" width="60" height="17" fill="#fff" stroke="#ff0000" stroke-width="1" shape-rendering="crispEdges"/>
<text x="1320.5" y="571.0" font-family="Liberation Sans, sans-serif" font-size="18" fill="#ff0000" text-anchor="middle" textLength="55" lengthAdjust="spacingAndGlyphs">23092.9</text>
<rect x="1351" y="564" width="10" height="1" fill="#ff0000" shape-rendering="crispEdges"/>
<rect x="1243.5" y="503.5" width="73" height="23" fill="#fff" stroke="#ff0000" stroke-width="1" shape-rendering="crispEdges"/>
<text x="1280.0" y="523.3" font-family="Liberation Sans, sans-serif" font-size="24.5" fill="#ff0000" text-anchor="middle" textLength="68" lengthAdjust="spacingAndGlyphs">23446.6</text>
<rect x="1234" y="514" width="7" height="1" fill="#ff0000" shape-rendering="crispEdges"/>
<rect x="1239.5" y="512.5" width="3" height="3" fill="#fff" stroke="#ff0000" stroke-width="1" shape-rendering="crispEdges"/>
</g>
<g shape-rendering="crispEdges">
<rect x="1646.5" y="459.5" width="4" height="4" fill="#fff" stroke="#ff0000" stroke-width="1"/>
<rect x="1646.5" y="484.5" width="4" height="4" fill="#fff" stroke="#ff0000" stroke-width="1"/>
<rect x="1646.5" y="512.5" width="4" height="4" fill="#fff" stroke="#32cd32" stroke-width="1"/>
<rect x="1646.5" y="554.5" width="4" height="4" fill="#fff" stroke="#0000ff" stroke-width="1"/>
<rect x="1646.5" y="572.5" width="4" height="4" fill="#fff" stroke="#0000ff" stroke-width="1"/>
</g>
<polygon points="0,33.5 0,30.5 2.5,33.5" fill="#000"/>
<polygon points="1428,24 1440,24 1434,30" fill="#b0b0b0"/>
<g shape-rendering="crispEdges">
<rect x="0" y="23" width="1652" height="1" fill="#000"/>
<rect x="1651" y="23" width="1" height="902" fill="#000"/>
<rect x="0" y="576" width="1652" height="1" fill="#000"/>
<rect x="0" y="578" width="1652" height="1" fill="#000"/>
<rect x="0" y="748" width="1652" height="1" fill="#000"/>
<rect x="0" y="750" width="1652" height="1" fill="#000"/>
<rect x="0" y="924" width="1652" height="1" fill="#000"/>
<rect x="0" y="577" width="1651" height="1" fill="#c8c8c8"/>
<rect x="0" y="749" width="1651" height="1" fill="#c8c8c8"/>
<rect x="1652" y="45" width="3" height="1" fill="#000"/>
<rect x="1652" y="78" width="3" height="1" fill="#000"/>
<rect x="1652" y="111" width="3" height="1" fill="#000"/>
<rect x="1652" y="144" width="3" height="1" fill="#000"/>
<rect x="1652" y="177" width="3" height="1" fill="#000"/>
<rect x="1652" y="210" width="3" height="1" fill="#000"/>
<rect x="1652" y="243" width="3" height="1" fill="#000"/>
<rect x="1652" y="276" width="3" height="1" fill="#000"/>
<rect x="1652" y="309" width="3" height="1" fill="#000"/>
<rect x="1652" y="342" width="3" height="1" fill="#000"/>
<rect x="1652" y="375" width="3" height="1" fill="#000"/>
<rect x="1652" y="408" width="3" height="1" fill="#000"/>
<rect x="1652" y="441" width="3" height="1" fill="#000"/>
<rect x="1652" y="474" width="3" height="1" fill="#000"/>
<rect x="1652" y="507" width="3" height="1" fill="#000"/>
<rect x="1652" y="540" width="3" height="1" fill="#000"/>
<rect x="1652" y="644" width="2" height="1" fill="#000"/>
<rect x="1652" y="578" width="2" height="1" fill="#000"/>
<rect x="1652" y="748" width="2" height="1" fill="#000"/>
<rect x="1652" y="750" width="2" height="1" fill="#000"/>
<rect x="1652" y="924" width="2" height="1" fill="#000"/>
<rect x="1652" y="786" width="2" height="1" fill="#000"/>
<rect x="1652" y="837" width="2" height="1" fill="#000"/>
<rect x="1652" y="898" width="2" height="1" fill="#000"/>
<rect x="56" y="925" width="1" height="3" fill="#000"/>
<rect x="120" y="925" width="1" height="3" fill="#000"/>
<rect x="184" y="925" width="1" height="3" fill="#000"/>
<rect x="248" y="925" width="1" height="3" fill="#000"/>
<rect x="312" y="925" width="1" height="3" fill="#000"/>
<rect x="376" y="925" width="1" height="3" fill="#000"/>
<rect x="440" y="925" width="1" height="3" fill="#000"/>
<rect x="504" y="925" width="1" height="3" fill="#000"/>
<rect x="568" y="925" width="1" height="3" fill="#000"/>
<rect x="632" y="925" width="1" height="3" fill="#000"/>
<rect x="696" y="925" width="1" height="3" fill="#000"/>
<rect x="760" y="925" width="1" height="3" fill="#000"/>
<rect x="824" y="925" width="1" height="3" fill="#000"/>
<rect x="888" y="925" width="1" height="3" fill="#000"/>
<rect x="952" y="925" width="1" height="3" fill="#000"/>
<rect x="1016" y="925" width="1" height="3" fill="#000"/>
<rect x="1080" y="925" width="1" height="3" fill="#000"/>
<rect x="1144" y="925" width="1" height="3" fill="#000"/>
<rect x="1208" y="925" width="1" height="3" fill="#000"/>
<rect x="1272" y="925" width="1" height="3" fill="#000"/>
<rect x="1336" y="925" width="1" height="3" fill="#000"/>
<rect x="1400" y="925" width="1" height="3" fill="#000"/>
</g>
<g clip-path="url(#c2)">
<g shape-rendering="crispEdges">
<rect x="0" y="644" width="1" height="91" fill="#c0c0c0"/>
<rect x="8" y="644" width="1" height="84" fill="#c0c0c0"/>
<rect x="16" y="644" width="1" height="84" fill="#c0c0c0"/>
<rect x="24" y="644" width="1" height="81" fill="#c0c0c0"/>
<rect x="32" y="644" width="1" height="76" fill="#c0c0c0"/>
<rect x="40" y="644" width="1" height="69" fill="#c0c0c0"/>
<rect x="48" y="644" width="1" height="66" fill="#c0c0c0"/>
<rect x="56" y="644" width="1" height="61" fill="#c0c0c0"/>
<rect x="64" y="644" width="1" height="51" fill="#c0c0c0"/>
<rect x="72" y="644" width="1" height="46" fill="#c0c0c0"/>
<rect x="80" y="644" width="1" height="41" fill="#c0c0c0"/>
<rect x="88" y="644" width="1" height="38" fill="#c0c0c0"/>
<rect x="96" y="644" width="1" height="36" fill="#c0c0c0"/>
<rect x="104" y="644" width="1" height="34" fill="#c0c0c0"/>
<rect x="112" y="644" width="1" height="29" fill="#c0c0c0"/>
<rect x="120" y="644" width="1" height="28" fill="#c0c0c0"/>
<rect x="128" y="644" width="1" height="24" fill="#c0c0c0"/>
<rect x="136" y="644" width="1" height="19" fill="#c0c0c0"/>
<rect x="144" y="644" width="1" height="16" fill="#c0c0c0"/>
<rect x="152" y="644" width="1" height="12" fill="#c0c0c0"/>
<rect x="160" y="644" width="1" height="8" fill="#c0c0c0"/>
<rect x="168" y="644" width="1" height="8" fill="#c0c0c0"/>
<rect x="176" y="644" width="1" height="9" fill="#c0c0c0"/>
<rect x="184" y="644" width="1" height="9" fill="#c0c0c0"/>
<rect x="192" y="644" width="1" height="10" fill="#c0c0c0"/>
<rect x="200" y="644" width="1" height="12" fill="#c0c0c0"/>
<rect x="208" y="644" width="1" height="16" fill="#c0c0c0"/>
<rect x="216" y="644" width="1" height="21" fill="#c0c0c0"/>
<rect x="224" y="644" width="1" height="22" fill="#c0c0c0"/>
<rect x="232" y="644" width="1" height="24" fill="#c0c0c0"/>
<rect x="240" y="644" width="1" height="31" fill="#c0c0c0"/>
<rect x="248" y="644" width="1" height="36" fill="#c0c0c0"/>
<rect x="256" y="644" width="1" height="48" fill="#c0c0c0"/>
<rect x="264" y="644" width="1" height="55" fill="#c0c0c0"/>
<rect x="272" y="644" width="1" height="53" fill="#c0c0c0"/>
<rect x="280" y="644" width="1" height="53" fill="#c0c0c0"/>
<rect x="288" y="644" width="1" height="49" fill="#c0c0c0"/>
<rect x="296" y="644" width="1" height="44" fill="#c0c0c0"/>
<rect x="304" y="644" width="1" height="38" fill="#c0c0c0"/>
<rect x="312" y="644" width="1" height="34" fill="#c0c0c0"/>
<rect x="320" y="644" width="1" height="34" fill="#c0c0c0"/>
<rect x="328" y="644" width="1" height="32" fill="#c0c0c0"/>
<rect x="336" y="644" width="1" height="30" fill="#c0c0c0"/>
<rect x="344" y="644" width="1" height="31" fill="#c0c0c0"/>
<rect x="352" y="644" width="1" height="29" fill="#c0c0c0"/>
<rect x="360" y="644" width="1" height="27" fill="#c0c0c0"/>
<rect x="368" y="644" width="1" height="29" fill="#c0c0c0"/>
<rect x="376" y="644" width="1" height="23" fill="#c0c0c0"/>
<rect x="384" y="644" width="1" height="16" fill="#c0c0c0"/>
<rect x="392" y="644" width="1" height="9" fill="#c0c0c0"/>
<rect x="400" y="644" width="1" height="4" fill="#c0c0c0"/>
<rect x="408" y="644" width="1" height="1" fill="#c0c0c0"/>
<rect x="416" y="642" width="1" height="3" fill="#c0c0c0"/>
<rect x="424" y="640" width="1" height="5" fill="#c0c0c0"/>
<rect x="432" y="638" width="1" height="7" fill="#c0c0c0"/>
<rect x="440" y="635" width="1" height="10" fill="#c0c0c0"/>
<rect x="448" y="631" width="1" height="14" fill="#c0c0c0"/>
<rect x="456" y="628" width="1" height="17" fill="#c0c0c0"/>
<rect x="464" y="627" width="1" height="18" fill="#c0c0c0"/>
<rect x="472" y="626" width="1" height="19" fill="#c0c0c0"/>
<rect x="480" y="629" width="1" height="16" fill="#c0c0c0"/>
<rect x="488" y="634" width="1" height="11" fill="#c0c0c0"/>
<rect x="496" y="633" width="1" height="12" fill="#c0c0c0"/>
<rect x="504" y="632" width="1" height="13" fill="#c0c0c0"/>
<rect x="512" y="636" width="1" height="9" fill="#c0c0c0"/>
<rect x="520" y="639" width="1" height="6" fill="#c0c0c0"/>
<rect x="528" y="641" width="1" height="4" fill="#c0c0c0"/>
<rect x="536" y="644" width="1" height="1" fill="#c0c0c0"/>
<rect x="544" y="644" width="1" height="9" fill="#c0c0c0"/>
<rect x="552" y="644" width="1" height="16" fill="#c0c0c0"/>
<rect x="560" y="644" width="1" height="28" fill="#c0c0c0"/>
<rect x="568" y="644" width="1" height="36" fill="#c0c0c0"/>
<rect x="576" y="644" width="1" height="39" fill="#c0c0c0"/>
<rect x="584" y="644" width="1" height="41" fill="#c0c0c0"/>
<rect x="592" y="644" width="1" height="53" fill="#c0c0c0"/>
<rect x="600" y="644" width="1" height="59" fill="#c0c0c0"/>
<rect x="608" y="644" width="1" height="64" fill="#c0c0c0"/>
<rect x="616" y="644" width="1" height="66" fill="#c0c0c0"/>
<rect x="624" y="644" width="1" height="64" fill="#c0c0c0"/>
<rect x="632" y="644" width="1" height="61" fill="#c0c0c0"/>
<rect x="640" y="644" width="1" height="58" fill="#c0c0c0"/>
<rect x="648" y="644" width="1" height="59" fill="#c0c0c0"/>
<rect x="656" y="644" width="1" height="57" fill="#c0c0c0"/>
<rect x="664" y="644" width="1" height="57" fill="#c0c0c0"/>
<rect x="672" y="644" width="1" height="51" fill="#c0c0c0"/>
<rect x="680" y="644" width="1" height="48" fill="#c0c0c0"/>
<rect x="688" y="644" width="1" height="46" fill="#c0c0c0"/>
<rect x="696" y="644" width="1" height="41" fill="#c0c0c0"/>
<rect x="704" y="644" width="1" height="38" fill="#c0c0c0"/>
<rect x="712" y="644" width="1" height="34" fill="#c0c0c0"/>
<rect x="720" y="644" width="1" height="38" fill="#c0c0c0"/>
<rect x="728" y="644" width="1" height="39" fill="#c0c0c0"/>
<rect x="736" y="644" width="1" height="39" fill="#c0c0c0"/>
<rect x="744" y="644" width="1" height="38" fill="#c0c0c0"/>
<rect x="752" y="644" width="1" height="40" fill="#c0c0c0"/>
<rect x="760" y="644" width="1" height="39" fill="#c0c0c0"/>
<rect x="768" y="644" width="1" height="32" fill="#c0c0c0"/>
<rect x="776" y="644" width="1" height="26" fill="#c0c0c0"/>
<rect x="784" y="644" width="1" height="20" fill="#c0c0c0"/>
<rect x="792" y="644" width="1" height="13" fill="#c0c0c0"/>
<rect x="800" y="644" width="1" height="1" fill="#c0c0c0"/>
<rect x="808" y="637" width="1" height="8" fill="#c0c0c0"/>
<rect x="816" y="633" width="1" height="12" fill="#c0c0c0"/>
<rect x="824" y="632" width="1" height="13" fill="#c0c0c0"/>
<rect x="832" y="630" width="1" height="15" fill="#c0c0c0"/>
<rect x="840" y="627" width="1" height="18" fill="#c0c0c0"/>
<rect x="848" y="623" width="1" height="22" fill="#c0c0c0"/>
<rect x="856" y="621" width="1" height="24" fill="#c0c0c0"/>
<rect x="864" y="617" width="1" height="28" fill="#c0c0c0"/>
<rect x="872" y="612" width="1" height="33" fill="#c0c0c0"/>
<rect x="880" y="607" width="1" height="38" fill="#c0c0c0"/>
<rect x="888" y="599" width="1" height="46" fill="#c0c0c0"/>
<rect x="896" y="593" width="1" height="52" fill="#c0c0c0"/>
<rect x="904" y="590" width="1" height="55" fill="#c0c0c0"/>
<rect x="912" y="590" width="1" height="55" fill="#c0c0c0"/>
<rect x="920" y="589" width="1" height="56" fill="#c0c0c0"/>
<rect x="928" y="588" width="1" height="57" fill="#c0c0c0"/>
<rect x="936" y="588" width="1" height="57" fill="#c0c0c0"/>
<rect x="944" y="589" width="1" height="56" fill="#c0c0c0"/>
<rect x="952" y="590" width="1" height="55" fill="#c0c0c0"/>
<rect x="960" y="593" width="1" height="52" fill="#c0c0c0"/>
<rect x="968" y="601" width="1" height="44" fill="#c0c0c0"/>
<rect x="976" y="608" width="1" height="37" fill="#c0c0c0"/>
<rect x="984" y="614" width="1" height="31" fill="#c0c0c0"/>
<rect x="992" y="620" width="1" height="25" fill="#c0c0c0"/>
<rect x="1000" y="626" width="1" height="19" fill="#c0c0c0"/>
<rect x="1008" y="632" width="1" height="13" fill="#c0c0c0"/>
<rect x="1016" y="639" width="1" height="6" fill="#c0c0c0"/>
<rect x="1024" y="644" width="1" height="1" fill="#c0c0c0"/>
<rect x="1032" y="644" width="1" height="2" fill="#c0c0c0"/>
<rect x="1040" y="644" width="1" height="8" fill="#c0c0c0"/>
<rect x="1048" y="644" width="1" height="14" fill="#c0c0c0"/>
<rect x="1056" y="644" width="1" height="16" fill="#c0c0c0"/>
<rect x="1064" y="644" width="1" height="17" fill="#c0c0c0"/>
<rect x="1072" y="644" width="1" height="16" fill="#c0c0c0"/>
<rect x="1080" y="644" width="1" height="18" fill="#c0c0c0"/>
<rect x="1088" y="644" width="1" height="20" fill="#c0c0c0"/>
<rect x="1096" y="644" width="1" height="24" fill="#c0c0c0"/>
<rect x="1104" y="644" width="1" height="26" fill="#c0c0c0"/>
<rect x="1112" y="644" width="1" height="27" fill="#c0c0c0"/>
<rect x="1120" y="644" width="1" height="28" fill="#c0c0c0"/>
<rect x="1128" y="644" width="1" height="31" fill="#c0c0c0"/>
<rect x="1136" y="644" width="1" height="27" fill="#c0c0c0"/>
<rect x="1144" y="644" width="1" height="25" fill="#c0c0c0"/>
<rect x="1152" y="644" width="1" height="20" fill="#c0c0c0"/>
<rect x="1160" y="644" width="1" height="14" fill="#c0c0c0"/>
<rect x="1168" y="644" width="1" height="10" fill="#c0c0c0"/>
<rect x="1176" y="644" width="1" height="6" fill="#c0c0c0"/>
<rect x="1184" y="644" width="1" height="3" fill="#c0c0c0"/>
<rect x="1192" y="640" width="1" height="5" fill="#c0c0c0"/>
<rect x="1200" y="636" width="1" height="9" fill="#c0c0c0"/>
<rect x="1208" y="633" width="1" height="12" fill="#c0c0c0"/>
<rect x="1216" y="630" width="1" height="15" fill="#c0c0c0"/>
<rect x="1224" y="633" width="1" height="12" fill="#c0c0c0"/>
<rect x="1232" y="634" width="1" height="11" fill="#c0c0c0"/>
<rect x="1240" y="641" width="1" height="4" fill="#c0c0c0"/>
<rect x="1248" y="644" width="1" height="1" fill="#c0c0c0"/>
<rect x="1256" y="644" width="1" height="2" fill="#c0c0c0"/>
<rect x="1264" y="644" width="1" height="6" fill="#c0c0c0"/>
<rect x="1272" y="644" width="1" height="11" fill="#c0c0c0"/>
<rect x="1280" y="644" width="1" height="16" fill="#c0c0c0"/>
<rect x="1288" y="644" width="1" height="19" fill="#c0c0c0"/>
<rect x="1296" y="644" width="1" height="21" fill="#c0c0c0"/>
<rect x="1304" y="644" width="1" height="22" fill="#c0c0c0"/>
<rect x="1312" y="644" width="1" height="22" fill="#c0c0c0"/>
<rect x="1320" y="644" width="1" height="28" fill="#c0c0c0"/>
<rect x="1328" y="644" width="1" height="34" fill="#c0c0c0"/>
<rect x="1336" y="644" width="1" height="39" fill="#c0c0c0"/>
<rect x="1344" y="644" width="1" height="47" fill="#c0c0c0"/>
<rect x="1352" y="644" width="1" height="56" fill="#c0c0c0"/>
<rect x="1360" y="644" width="1" height="59" fill="#c0c0c0"/>
<rect x="1368" y="644" width="1" height="59" fill="#c0c0c0"/>
<rect x="1376" y="644" width="1" height="60" fill="#c0c0c0"/>
<rect x="1384" y="644" width="1" height="60" fill="#c0c0c0"/>
<rect x="1392" y="644" width="1" height="57" fill="#c0c0c0"/>
<rect x="1400" y="644" width="1" height="56" fill="#c0c0c0"/>
<rect x="1408" y="644" width="1" height="53" fill="#c0c0c0"/>
<rect x="1416" y="644" width="1" height="56" fill="#c0c0c0"/>
<rect x="1424" y="644" width="1" height="57" fill="#c0c0c0"/>
</g>
<polyline points="0.5,704.7 10.5,712.9 18.0,718.7 25.5,722.4 33.0,725.9 40.5,727.7 48.0,727.2 55.5,724.9 65.5,717.9 75.5,711.7 85.5,704.2 95.5,698.7 105.5,692.9 115.5,687.9 125.5,682.1 135.5,677.9 145.5,672.9 155.5,669.6 165.5,664.6 175.5,661.6 185.5,659.1 195.5,656.6 205.5,655.3 213.0,655.6 223.0,657.1 233.0,658.6 243.0,661.6 253.0,666.6 263.0,672.9 273.0,677.9 283.0,683.6 290.5,686.1 300.5,688.6 310.5,689.6 320.5,689.1 330.5,686.6 340.5,684.1 350.5,680.4 360.5,677.1 370.5,675.4 380.5,672.1 390.5,670.4 400.5,666.1 410.5,661.6 420.5,656.6 425.5,655.3 435.5,650.3 445.5,645.3 455.5,640.3 465.5,637.1 475.5,633.6 485.5,632.1 495.5,630.6 505.5,629.8 515.5,630.8 525.5,631.6 535.5,634.6 545.5,637.8 555.5,642.8 565.5,649.1 575.5,656.1 585.5,664.1 595.5,671.6 605.5,679.6 615.5,687.9 625.5,694.7 635.5,698.7 645.5,701.7 655.5,704.2 665.5,704.9 675.5,703.4 685.5,700.9 695.5,697.9 705.5,694.7 715.5,691.1 725.5,689.1 735.5,686.1 745.5,684.1 755.5,683.6 765.5,682.4 775.5,680.9 785.5,678.4 795.5,674.1 805.5,669.1 815.5,661.6 825.5,654.1 835.5,647.8 845.5,642.1 850.5,637.8 860.5,631.1 870.5,626.6 880.5,622.1 890.5,617.3 900.5,612.0 910.5,607.0 920.5,602.0 930.5,597.8 940.5,593.3 950.5,591.0 960.5,589.8 970.5,591.0 980.5,594.0 990.5,597.8 1000.5,602.8 1010.5,609.0 1020.5,616.5 1030.5,623.6 1040.5,631.1 1050.5,637.8 1060.5,643.6 1070.5,648.6 1080.5,653.6 1090.5,657.1 1100.5,660.9 1110.5,663.4 1120.5,664.6 1130.5,667.1 1140.5,668.6 1150.5,668.9 1160.5,668.4 1170.5,666.6 1180.5,663.4 1190.5,659.6 1200.5,654.1 1210.5,649.1 1220.5,644.1 1230.5,639.6 1240.5,637.8 1250.5,637.1 1260.5,638.3 1270.5,639.6 1276.0,641.6 1283.5,644.6 1293.5,649.1 1303.5,654.1 1313.5,657.1 1323.5,661.6 1333.5,666.6 1343.5,671.6 1353.5,676.1 1363.5,681.6 1373.5,686.6 1383.5,692.1 1393.5,696.1 1403.5,697.9 1413.5,699.1 1423.5,701.6" fill="none" stroke="#ff0000" stroke-width="1" stroke-dasharray="2.2 2.6"/>
<line x1="1349" y1="698" x2="1385" y2="698" stroke="#ff0000" stroke-width="2.4"/>
<line x1="1385" y1="698.5" x2="1412" y2="698.5" stroke="#ff0000" stroke-width="3.4"/>
<polygon points="1419.800,698.3 1408.500,693.2 1409.200,703.2" fill="#ff0000"/>
</g>
<g clip-path="url(#c3)">
<line x1="0" y1="786.5" x2="1651" y2="786.5" stroke="#c0c0c0" stroke-width="1" stroke-dasharray="3 3" shape-rendering="crispEdges"/>
<line x1="0" y1="837.5" x2="1651" y2="837.5" stroke="#c0c0c0" stroke-width="1" stroke-dasharray="3 3" shape-rendering="crispEdges"/>
<line x1="0" y1="898.5" x2="1651" y2="898.5" stroke="#c0c0c0" stroke-width="1" stroke-dasharray="3 3" shape-rendering="crispEdges"/>
<polyline points="0.5,857.4 8.5,852.4 16.5,860.6 24.5,856.1 32.5,849.9 40.5,849.9 48.5,853.6 56.5,849.4 64.5,837.9 72.5,841.6 80.5,843.6 88.5,847.9 96.5,846.6 104.5,847.9 112.5,839.9 120.5,844.1 128.5,842.9 136.5,835.4 144.5,833.6 152.5,833.6 160.5,834.1 168.5,839.9 176.5,845.6 184.5,841.9 192.5,847.9 200.5,850.6 208.5,854.4 216.5,863.6 224.5,854.9 232.5,857.9 240.5,868.6 248.5,871.9 256.5,881.7 264.5,877.4 272.5,856.1 280.5,860.6 288.5,846.6 296.5,842.9 304.5,842.9 312.5,841.1 320.5,851.1 328.5,847.9 336.5,846.9 344.5,852.4 352.5,849.1 360.5,846.1 368.5,855.6 376.5,834.1 384.5,829.1 392.5,828.6 400.5,826.6 408.5,825.6 416.5,831.6 424.5,832.7 432.5,828.6 440.5,824.3 448.5,819.8 456.5,819.8 464.5,826.1 472.5,822.8 480.5,838.6 488.5,846.6 496.5,829.9 504.5,828.6 512.5,845.6 520.5,841.1 528.5,842.4 536.5,851.9 544.5,856.6 552.5,862.4 560.5,872.4 568.5,867.4 576.5,863.1 584.5,858.6 592.5,876.7 600.5,871.7 608.5,872.9 616.5,865.6 624.5,858.6 632.5,854.1 640.5,854.9 648.5,861.9 656.5,858.6 664.5,861.1 672.5,847.9 680.5,849.9 688.5,853.1 696.5,845.6 704.5,849.1 712.5,844.9 720.5,859.9 728.5,859.9 736.5,854.9 744.5,856.1 752.5,859.1 760.5,857.9 768.5,835.4 776.5,831.6 784.5,834.1 792.5,825.6 800.5,812.8 808.5,814.3 816.5,824.8 824.5,829.9 832.5,827.4 840.5,822.3 848.5,818.2 856.5,822.8 864.5,815.6 872.5,809.8 880.5,807.8 888.5,801.1 896.5,799.8 904.5,804.8 912.5,808.6 920.5,806.8 928.5,805.6 936.5,804.8 944.5,804.8 952.5,811.8 960.5,811.8 968.5,836.6 976.5,836.9 984.5,838.6 992.5,844.4 1000.5,845.6 1008.5,849.1 1016.5,860.4 1024.5,856.6 1032.5,846.1 1040.5,857.4 1048.5,863.6 1056.5,852.9 1064.5,851.6 1072.5,844.1 1080.5,852.9 1088.5,856.1 1096.5,860.6 1104.5,860.6 1112.5,860.6 1120.5,857.9 1128.5,867.9 1136.5,841.1 1144.5,843.6 1152.5,833.1 1160.5,829.9 1168.5,828.6 1176.5,831.9 1184.5,827.4 1192.5,817.8 1200.5,817.8 1208.5,822.8 1216.5,819.8 1224.5,836.9 1232.5,835.6 1240.5,853.6 1248.5,847.9 1256.5,848.6 1264.5,849.9 1272.5,857.9 1280.5,861.6 1288.5,858.1 1296.5,854.9 1304.5,853.6 1312.5,851.6 1320.5,870.7 1328.5,874.9 1336.5,876.9 1344.5,880.7 1352.5,884.9 1360.5,885.7 1368.5,868.1 1376.5,872.4 1384.5,866.1 1392.5,864.4 1400.5,868.1 1408.5,858.6 1416.5,867.9 1424.5,871.2" fill="none" stroke="#1e90ff" stroke-width="1"/>
<line x1="1367" y1="866" x2="1440" y2="873.4" stroke="#ff0000" stroke-width="3"/>
<polygon points="1449.200,874.5 1437.800,869.4 1437,878" fill="#ff0000"/>
</g>
</svg>
<div id="redge"></div>
<div class="t" style="left:1657px;top:40px;font-size:9.5px;color:#000;letter-spacing:-0.15px;">26755.0</div>
<div class="t" style="left:1657px;top:73px;font-size:9.5px;color:#000;letter-spacing:-0.15px;">26517.0</div>
<div class="t" style="left:1657px;top:106px;font-size:9.5px;color:#000;letter-spacing:-0.15px;">26286.0</div>
<div class="t" style="left:1657px;top:139px;font-size:9.5px;color:#000;letter-spacing:-0.15px;">26055.0</div>
<div class="t" style="left:1657px;top:172px;font-size:9.5px;color:#000;letter-spacing:-0.15px;">25824.0</div>
<div class="t" style="left:1657px;top:205px;font-size:9.5px;color:#000;letter-spacing:-0.15px;">25586.0</div>
<div class="t" style="left:1657px;top:238px;font-size:9.5px;color:#000;letter-spacing:-0.15px;">25355.0</div>
<div class="t" style="left:1657px;top:271px;font-size:9.5px;color:#000;letter-spacing:-0.15px;">25124.0</div>
<div class="t" style="left:1657px;top:304px;font-size:9.5px;color:#000;letter-spacing:-0.15px;">24893.0</div>
<div class="t" style="left:1657px;top:337px;font-size:9.5px;color:#000;letter-spacing:-0.15px;">24655.0</div>
<div class="t" style="left:1657px;top:370px;font-size:9.5px;color:#000;letter-spacing:-0.15px;">24424.0</div>
<div class="t" style="left:1657px;top:403px;font-size:9.5px;color:#000;letter-spacing:-0.15px;">24193.0</div>
<div class="t" style="left:1657px;top:436px;font-size:9.5px;color:#000;letter-spacing:-0.15px;">23962.0</div>
<div class="t" style="left:1657px;top:469px;font-size:9.5px;color:#000;letter-spacing:-0.15px;">23724.0</div>
<div class="t" style="left:1657px;top:502px;font-size:9.5px;color:#000;letter-spacing:-0.15px;">23493.0</div>
<div class="t" style="left:1657px;top:535px;font-size:9.5px;color:#000;letter-spacing:-0.15px;">23262.0</div>
<div class="pl" style="top:455px;background:#ff0000">23819.8</div>
<div class="pl" style="top:480px;background:#ff0000">23643.8</div>
<div class="pl" style="top:508px;background:#32cd32">23446.6</div>
<div class="pl" style="top:526px;background:#000">23327.0</div>
<div class="pl" style="top:550px;background:#0000ff">23150.8</div>
<div class="pl" style="top:568px;background:#0000ff">23024.1</div>
<div class="t" style="left:1655px;top:581px;font-size:9.5px;color:#000;">443.46</div>
<div class="t" style="left:1655px;top:639px;font-size:9.5px;color:#000;">0.00</div>
<div class="t" style="left:1655px;top:736px;font-size:9.5px;color:#000;">-706.76</div>
<div class="t" style="left:1655px;top:752px;font-size:9.5px;color:#000;">100</div>
<div class="t" style="left:1655px;top:781px;font-size:9.5px;color:#000;">80</div>
<div class="t" style="left:1655px;top:832px;font-size:9.5px;color:#000;">50</div>
<div class="t" style="left:1655px;top:893px;font-size:9.5px;color:#000;">15</div>
<div class="t" style="left:1655px;top:912px;font-size:9.5px;color:#000;">0</div>
<div class="t" style="left:55px;top:928px;font-size:9.5px;color:#000;">3 Aug 05:00</div>
<div class="t" style="left:119px;top:928px;font-size:9.5px;color:#000;">9 Aug 05:00</div>
<div class="t" style="left:183px;top:928px;font-size:9.5px;color:#000;">13 Aug 05:00</div>
<div class="t" style="left:247px;top:928px;font-size:9.5px;color:#000;">19 Aug 05:00</div>
<div class="t" style="left:311px;top:928px;font-size:9.5px;color:#000;">25 Aug 05:00</div>
<div class="t" style="left:375px;top:928px;font-size:9.5px;color:#000;">31 Aug 05:00</div>
<div class="t" style="left:439px;top:928px;font-size:9.5px;color:#000;">6 Sep 05:00</div>
<div class="t" style="left:503px;top:928px;font-size:9.5px;color:#000;">10 Sep 05:00</div>
<div class="t" style="left:567px;top:928px;font-size:9.5px;color:#000;">16 Sep 05:00</div>
<div class="t" style="left:631px;top:928px;font-size:9.5px;color:#000;">23 Sep 05:00</div>
<div class="t" style="left:695px;top:928px;font-size:9.5px;color:#000;">29 Sep 05:00</div>
<div class="t" style="left:759px;top:928px;font-size:9.5px;color:#000;">6 Oct 05:00</div>
<div class="t" style="left:823px;top:928px;font-size:9.5px;color:#000;">12 Oct 05:00</div>
<div class="t" style="left:887px;top:928px;font-size:9.5px;color:#000;">20 Oct 01:15</div>
<div class="t" style="left:951px;top:928px;font-size:9.5px;color:#000;">26 Oct 01:15</div>
<div class="t" style="left:1015px;top:928px;font-size:9.5px;color:#000;">1 Nov 01:15</div>
<div class="t" style="left:1079px;top:928px;font-size:9.5px;color:#000;">5 Nov 01:15</div>
<div class="t" style="left:1143px;top:928px;font-size:9.5px;color:#000;">11 Nov 01:15</div>
<div class="t" style="left:1207px;top:928px;font-size:9.5px;color:#000;">17 Nov 01:15</div>
<div class="t" style="left:1271px;top:928px;font-size:9.5px;color:#000;">23 Nov 01:15</div>
<div class="t" style="left:1335px;top:928px;font-size:9.5px;color:#000;">29 Nov 01:15</div>
<div class="t" style="left:1399px;top:928px;font-size:9.5px;color:#000;">3 Dec 01:15</div>
<div class="t" style="left:-4.5px;top:928px;font-size:9.5px;color:#000;">8 Jul 2021</div>
<div class="t" style="left:7px;top:25.7px;font-size:9.5px;color:#000;letter-spacing:-0.11px;">HK50-,H4&nbsp; 23471.0 23500.0 23297.5 23327.0</div>
<div class="t" style="left:-3.5px;top:582.5px;font-size:9.4px;color:#000;">MACD(12,26,9) -379.59 -386.15</div>
<div class="t" style="left:-4px;top:754.5px;font-size:9.3px;color:#000;">RSI(14) 30.8965</div>
<div id="pn">
<div class="sb" style="left:0;width:47px"><span style="position:absolute;left:7px">SELL</span></div>
<div class="sb" style="left:163px;width:51px"><span style="position:absolute;left:12px">BUY</span></div>
<div class="lb" style="left:0;width:104px"><span class="sm" style="left:11px">23325</span><span class="dot" style="left:48.5px">.</span><span class="bg" style="left:57px">5</span></div>
<div class="lb" style="left:106px;width:108px"><span class="sm" style="left:15px">23338</span><span class="dot" style="left:53.5px">.</span><span class="bg" style="left:62px">5</span></div>
<div class="hl" style="left:0;width:43px"></div><div class="hl" style="left:166px;width:44px"></div>
<div id="sp"><div class="bt" style="left:1px"><svg width="17" height="15" style="position:absolute;left:0;top:0"><path d="M6 6h5l-2.5 3z" fill="#4a5fc0"/></svg></div><div class="v">1.00</div><div class="bt" style="left:88px"><svg width="17" height="15" style="position:absolute;left:0;top:0"><path d="M6 9h5l-2.5-3z" fill="#4a5fc0"/></svg></div></div>
</div>
<div id="tb"><div class="l1"></div><div class="l2"></div><div class="l3"></div>
<svg style="position:absolute;left:0px;top:0px" width="6" height="16" viewBox="0 0 6 16"><path d="M0 8l4 5" stroke="#d9a520" stroke-width="2.5"/><circle cx="-2" cy="4" r="4" fill="none" stroke="#3b78c8" stroke-width="1.5"/></svg>
<div style="position:absolute;left:12px;top:0;width:1px;height:17px;background:#a0a0a0"></div>
<svg style="position:absolute;left:21px;top:0px" width="18" height="16" viewBox="0 0 18 16"><path d="M2.5 0.5h8l3 3v9h-11z" fill="#fff" stroke="#8a8a8a"/><path d="M4 4h6M4 6.5h6M4 9h4" stroke="#9a9a9a"/><path d="M9 9.5h3v-3h3v3h3v3h-3v3h-3v-3h-3z" fill="#1fbf1f" stroke="#0a7a0a" stroke-width="0.8"/></svg>
<div style="position:absolute;left:41px;top:-1px;font-size:12px;line-height:14px;color:#000;white-space:nowrap">新订单</div>
<svg style="position:absolute;left:88px;top:0px" width="18" height="15" viewBox="0 0 18 15"><path d="M7 0l10 6-6 8-10-5z" fill="#e9b62e" stroke="#a97808" stroke-width="0.8"/><path d="M1 9l1 2 9 4.5 6-8-.5-1.5" fill="#c38a10" stroke="#8a6206" stroke-width="0.6"/><path d="M7.5 1.5l8 5-4.5 6" fill="none" stroke="#f7da7a" stroke-width="1"/></svg>
<svg style="position:absolute;left:116px;top:0px" width="18" height="15" viewBox="0 0 18 15"><rect x="4" y="0" width="9" height="8" fill="#3d8fe0" stroke="#1d5fb0" stroke-width="0.8"/><rect x="6" y="2" width="5" height="2" fill="#d6ecff"/><ellipse cx="9" cy="11" rx="8" ry="3.6" fill="#dfe9f5" stroke="#8aa4c4" stroke-width="0.8"/><ellipse cx="6" cy="9" rx="3" ry="2.5" fill="#eef4fb"/><ellipse cx="11.5" cy="9" rx="3.3" ry="2.6" fill="#eef4fb"/></svg>
<svg style="position:absolute;left:144px;top:0px" width="18" height="16" viewBox="0 0 18 16"><circle cx="9" cy="7" r="7" fill="none" stroke="#8fb4e8" stroke-width="1.6"/><circle cx="9" cy="7" r="4" fill="none" stroke="#5b8fdc" stroke-width="1.5"/><circle cx="9" cy="7" r="1.6" fill="#2a62c8"/><path d="M9 7v8a8 8 0 0 0 7-6" fill="none" stroke="#3aa657" stroke-width="2"/></svg>
<svg style="position:absolute;left:171px;top:0px" width="19" height="16" viewBox="0 0 19 16"><path d="M3 7c0 4 2 7 6 8 4-1 6-4 6-8z" fill="#f0c23c" stroke="#b8860b" stroke-width="0.7"/><ellipse cx="9" cy="6" rx="8" ry="2.6" fill="#5fa0e0" stroke="#2f6fb8" stroke-width="0.7"/><path d="M5.5 5c0-4 1-5.5 3.5-5.5s3.500 1.500 3.500 5.500z" fill="#4f94dc"/><circle cx="13.5" cy="10.5" r="4.300" fill="#e02a1a"/><rect x="11.800" y="8.800" width="3.400" height="3.400" fill="#fff"/></svg>
<div style="position:absolute;left:193px;top:-1px;font-size:12px;line-height:14px;color:#000;white-space:nowrap">自动交易</div>
<div style="position:absolute;left:248px;top:0;width:1px;height:17px;background:#a0a0a0"></div>
<div style="position:absolute;left:252px;top:1px;width:3px;height:15px;background:repeating-linear-gradient(#b8b8b8 0 1px,transparent 1px 2px)"></div>
<svg style="position:absolute;left:263px;top:1px" width="16" height="16" viewBox="0 0 16 16"><path d="M3.500 1v14M0.5 12.5h14" stroke="#444" stroke-width="1.2" fill="none"/><path d="M3.500 0l-2 3h4zM15.5 12.500l-3-2v4z" fill="#444"/><path d="M9.500 2v8M7.500 8.500h2M9.500 2.500h2" stroke="#1a9a1a" stroke-width="1.3" fill="none"/></svg>
<div style="position:absolute;left:288px;top:0;width:24px;height:17px;background:#f8f8f8;border-left:1px solid #9a9a9a;box-sizing:border-box"></div>
<svg style="position:absolute;left:291px;top:1px" width="16" height="16" viewBox="0 0 16 16"><path d="M3.500 1v14M0.5 12.5h14" stroke="#444" stroke-width="1.2" fill="none"/><path d="M3.500 0l-2 3h4zM15.5 12.500l-3-2v4z" fill="#444"/><path d="M8.500 0v11" stroke="#0a6a0a"/><rect x="6.500" y="1.500" width="4" height="7" fill="#22c022" stroke="#0a6a0a"/></svg>
<svg style="position:absolute;left:319px;top:1px" width="16" height="16" viewBox="0 0 16 16"><path d="M3.500 1v14M0.5 12.5h14" stroke="#444" stroke-width="1.2" fill="none"/><path d="M3.500 0l-2 3h4zM15.5 12.500l-3-2v4z" fill="#444"/><path d="M3.500 10c3-7 6-8 10-2" stroke="#2a8a2a" stroke-width="1.200" fill="none"/></svg>
<div style="position:absolute;left:343px;top:0;width:1px;height:17px;background:#a0a0a0"></div>
<svg style="position:absolute;left:352px;top:0px" width="17" height="16" viewBox="0 0 17 16"><circle cx="6.500" cy="6" r="5" fill="#d8ebfb" stroke="#3f7fd0" stroke-width="1.500"/><path d="M10.500 10l5 5" stroke="#d9a520" stroke-width="2.600"/><path d="M4 6h5M6.500 3.500v5" stroke="#2a62c0" stroke-width="1.400"/></svg>
<svg style="position:absolute;left:380px;top:0px" width="17" height="16" viewBox="0 0 17 16"><circle cx="6.500" cy="6" r="5" fill="#d8ebfb" stroke="#3f7fd0" stroke-width="1.500"/><path d="M10.500 10l5 5" stroke="#d9a520" stroke-width="2.600"/><path d="M4 6h5" stroke="#2a62c0" stroke-width="1.400"/></svg>
<svg style="position:absolute;left:407px;top:0px" width="18" height="16" viewBox="0 0 18 16"><rect x="0.500" y="0.500" width="7.500" height="6.500" fill="#5fb85f" stroke="#2e7d2e"/><rect x="9.500" y="0.500" width="7.500" height="6.500" fill="#4a7fe0" stroke="#2a52a8"/><rect x="0.500" y="8.500" width="7.500" height="6.500" fill="#4a7fe0" stroke="#2a52a8"/><rect x="9.500" y="8.500" width="7.500" height="6.500" fill="#5fb85f" stroke="#2e7d2e"/><path d="M2 3h4.500M11 3h4.500M2 11h4.500M11 11h4.500" stroke="#fff" stroke-width="1.400"/></svg>
<div style="position:absolute;left:433px;top:0;width:1px;height:17px;background:#a0a0a0"></div>
<div style="position:absolute;left:439px;top:0;width:25px;height:17px;background:#f8f8f8;border-left:1px solid #9a9a9a;box-sizing:border-box"></div>
<svg style="position:absolute;left:443px;top:1px" width="16" height="16" viewBox="0 0 16 16"><path d="M3.500 1v14M0.500 12.500h14" stroke="#444" stroke-width="1.200"/><path d="M8 3l5 3-5 3z" fill="#22b022"/></svg>
<div style="position:absolute;left:466px;top:0;width:25px;height:17px;background:#f8f8f8;border-left:1px solid #9a9a9a;box-sizing:border-box"></div>
<svg style="position:absolute;left:470px;top:1px" width="18" height="16" viewBox="0 0 18 16"><path d="M3.500 1v14M0.500 12.500h15M9.500 1v11" stroke="#444" stroke-width="1.200"/><path d="M16 5.500h-4M13.500 3l-2.500 2.500 2.500 2.500" stroke="#c83a1a" stroke-width="1.200" fill="none"/></svg>
<div style="position:absolute;left:495px;top:0;width:1px;height:17px;background:#a0a0a0"></div>
<svg style="position:absolute;left:504px;top:0px" width="19" height="17" viewBox="0 0 19 17"><path d="M3.500 1.500h5l2 2v8h-7z" fill="#f4f4f4" stroke="#777"/><path d="M6 3.500h5l2 2" fill="none" stroke="#999"/><path d="M8 9.500h3.500v-3.500h3.500v3.500h3.500v3.500h-3.500v3.500h-3.500v-3.500h-3.500z" fill="#1fbf1f" stroke="#0a7a0a" stroke-width="0.700"/></svg>
<svg style="position:absolute;left:526px;top:6px" width="7" height="4"><path d="M0 0h7l-3.5 4z" fill="#222"/></svg>
<svg style="position:absolute;left:542px;top:0px" width="18" height="16" viewBox="0 0 18 16"><circle cx="8.500" cy="7.500" r="7.300" fill="#2f74d8" stroke="#1a4da0"/><circle cx="8.500" cy="7.500" r="5" fill="#f4f8ff"/><path d="M8.500 4v4h3" stroke="#333" stroke-width="1.100" fill="none"/></svg>
<svg style="position:absolute;left:565px;top:6px" width="7" height="4"><path d="M0 0h7l-3.5 4z" fill="#222"/></svg>
<svg style="position:absolute;left:582px;top:0px" width="18" height="16" viewBox="0 0 18 16"><rect x="0.500" y="0.500" width="16" height="14" fill="#fff" stroke="#3a6ac8"/><rect x="0.500" y="0.500" width="16" height="3" fill="#3a6ac8"/><path d="M2 7l3-1 3 1 3-1.500 4 .5" stroke="#c8381a" fill="none"/><path d="M2 11.500l3-1 2 1 3-1.500 2 1 3-1" stroke="#2a9a3a" fill="none"/></svg>
<svg style="position:absolute;left:604px;top:6px" width="7" height="4"><path d="M0 0h7l-3.5 4z" fill="#222"/></svg>
<div style="position:absolute;left:620px;top:1px;width:3px;height:15px;background:repeating-linear-gradient(#b8b8b8 0 1px,transparent 1px 2px)"></div>
<div style="position:absolute;left:626px;top:0;width:1px;height:17px;background:#a0a0a0"></div>
<div style="position:absolute;left:627px;top:0;width:26px;height:17px;background:#f8f8f8;border-left:1px solid #9a9a9a;box-sizing:border-box"></div>
<svg style="position:absolute;left:633px;top:0px" width="12" height="16" viewBox="0 0 12 16"><path d="M1.500 0.500v12l3-2.800 2.200 5 1.800-.8-2.200-4.700h4z" fill="#333"/></svg>
<svg style="position:absolute;left:658px;top:0px" width="17" height="16" viewBox="0 0 17 16"><path d="M8.500 0v6M8.500 9v6.500M0.500 7.500h6M10 7.500h6.500" stroke="#444" stroke-width="1.100"/></svg>
<div style="position:absolute;left:683px;top:0;width:1px;height:17px;background:#a0a0a0"></div>
<svg style="position:absolute;left:696px;top:0px" width="10" height="16" viewBox="0 0 10 16"><path d="M4.500 1v13" stroke="#444" stroke-width="1.200"/></svg>
<svg style="position:absolute;left:722px;top:0px" width="14" height="16" viewBox="0 0 14 16"><path d="M1 7.500h12" stroke="#444" stroke-width="1.200"/></svg>
<svg style="position:absolute;left:749px;top:0px" width="16" height="16" viewBox="0 0 16 16"><path d="M1.500 14l13-12.500" stroke="#555" stroke-width="1.200"/></svg>
<svg style="position:absolute;left:776px;top:0px" width="18" height="17" viewBox="0 0 18 17"><path d="M1 10l12-9M3 14l12-9M5 12l-1-5M9 10l-1-5M13 7l-1-5" stroke="#444" stroke-width="1.100" fill="none"/><text x="12" y="16.500" font-family="Liberation Sans, sans-serif" font-size="7" font-weight="bold" fill="#333">E</text></svg>
<svg style="position:absolute;left:805px;top:0px" width="17" height="17" viewBox="0 0 17 17"><path d="M0 1.500h14M0 5h14M0 8.500h14M0 12h10" stroke="#555" stroke-dasharray="1.500 1" fill="none"/><text x="10.500" y="16.500" font-family="Liberation Sans, sans-serif" font-size="7" font-weight="bold" fill="#333">F</text></svg>
<div style="position:absolute;left:836px;top:0px;font-size:12.500px;line-height:15px;color:#666">A</div>
<svg style="position:absolute;left:861px;top:0px" width="16" height="16" viewBox="0 0 16 16"><rect x="1.500" y="0.500" width="12" height="13.500" fill="none" stroke="#666" stroke-dasharray="1.300 1.200"/><path d="M4 3h7M7.500 3v8.500" stroke="#333" stroke-width="1.600"/></svg>
<svg style="position:absolute;left:888px;top:0px" width="17" height="16" viewBox="0 0 17 16"><path d="M3 2l3.500 3-3.500 3-3-3zM8 6l3.500 3-3.500 3zM13 9l3.500 3-3.500 3-3-3z" fill="#333"/><path d="M3 5l5 4 5 3" stroke="#333" fill="none"/></svg>
<svg style="position:absolute;left:910px;top:6px" width="7" height="4"><path d="M0 0h7l-3.5 4z" fill="#222"/></svg>
<div style="position:absolute;left:922px;top:0;width:1px;height:17px;background:#a0a0a0"></div>
<div style="position:absolute;left:925px;top:1px;width:3px;height:15px;background:repeating-linear-gradient(#b8b8b8 0 1px,transparent 1px 2px)"></div>
<div style="position:absolute;left:1072px;top:0;width:26px;height:17px;background:#f8f8f8;border-left:1px solid #9a9a9a;box-sizing:border-box"></div>
<div style="position:absolute;left:937px;top:2px;font-size:9.800px;line-height:11px;color:#555;white-space:nowrap">M1</div>
<div style="position:absolute;left:965px;top:2px;font-size:9.800px;line-height:11px;color:#555;white-space:nowrap">M5</div>
<div style="position:absolute;left:991px;top:2px;font-size:9.800px;line-height:11px;color:#555;white-space:nowrap">M15</div>
<div style="position:absolute;left:1019px;top:2px;font-size:9.800px;line-height:11px;color:#555;white-space:nowrap">M30</div>
<div style="position:absolute;left:1050px;top:2px;font-size:9.800px;line-height:11px;color:#555;white-space:nowrap">H1</div>
<div style="position:absolute;left:1077px;top:2px;font-size:9.800px;line-height:11px;color:#555;white-space:nowrap">H4</div>
<div style="position:absolute;left:1106px;top:2px;font-size:9.800px;line-height:11px;color:#555;white-space:nowrap">D1</div>
<div style="position:absolute;left:1133px;top:2px;font-size:9.800px;line-height:11px;color:#555;white-space:nowrap">W1</div>
<div style="position:absolute;left:1160px;top:2px;font-size:9.800px;line-height:11px;color:#555;white-space:nowrap">MN</div>
<div style="position:absolute;left:1183px;top:0;width:1px;height:17px;background:#a0a0a0"></div>
<svg style="position:absolute;left:1643px;top:0px" width="18" height="15" viewBox="0 0 18 15"><circle cx="10.500" cy="4.300" r="4" fill="#eef2ff" stroke="#2462d2" stroke-width="1.500"/><path d="M7.500 7.300l-5 4.800" stroke="#2462d2" stroke-width="2.400"/></svg>
<svg style="position:absolute;left:1666px;top:0px" width="32" height="18" viewBox="0 0 32 18"><ellipse cx="10" cy="9.800" rx="5.800" ry="4.600" fill="#e4e6ee" stroke="#b4b4b4"/><path d="M7 13.500l.500 2.500 3-2.300z" fill="#d0d2da" stroke="#a8a8a8" stroke-width="0.600"/><circle cx="18.400" cy="4.700" r="8.300" fill="#de3218"/><text x="18.400" y="9.300" font-family="Liberation Serif, serif" font-size="13.500" font-weight="bold" fill="#fff" text-anchor="middle">1</text></svg>
</div>
</body></html>
